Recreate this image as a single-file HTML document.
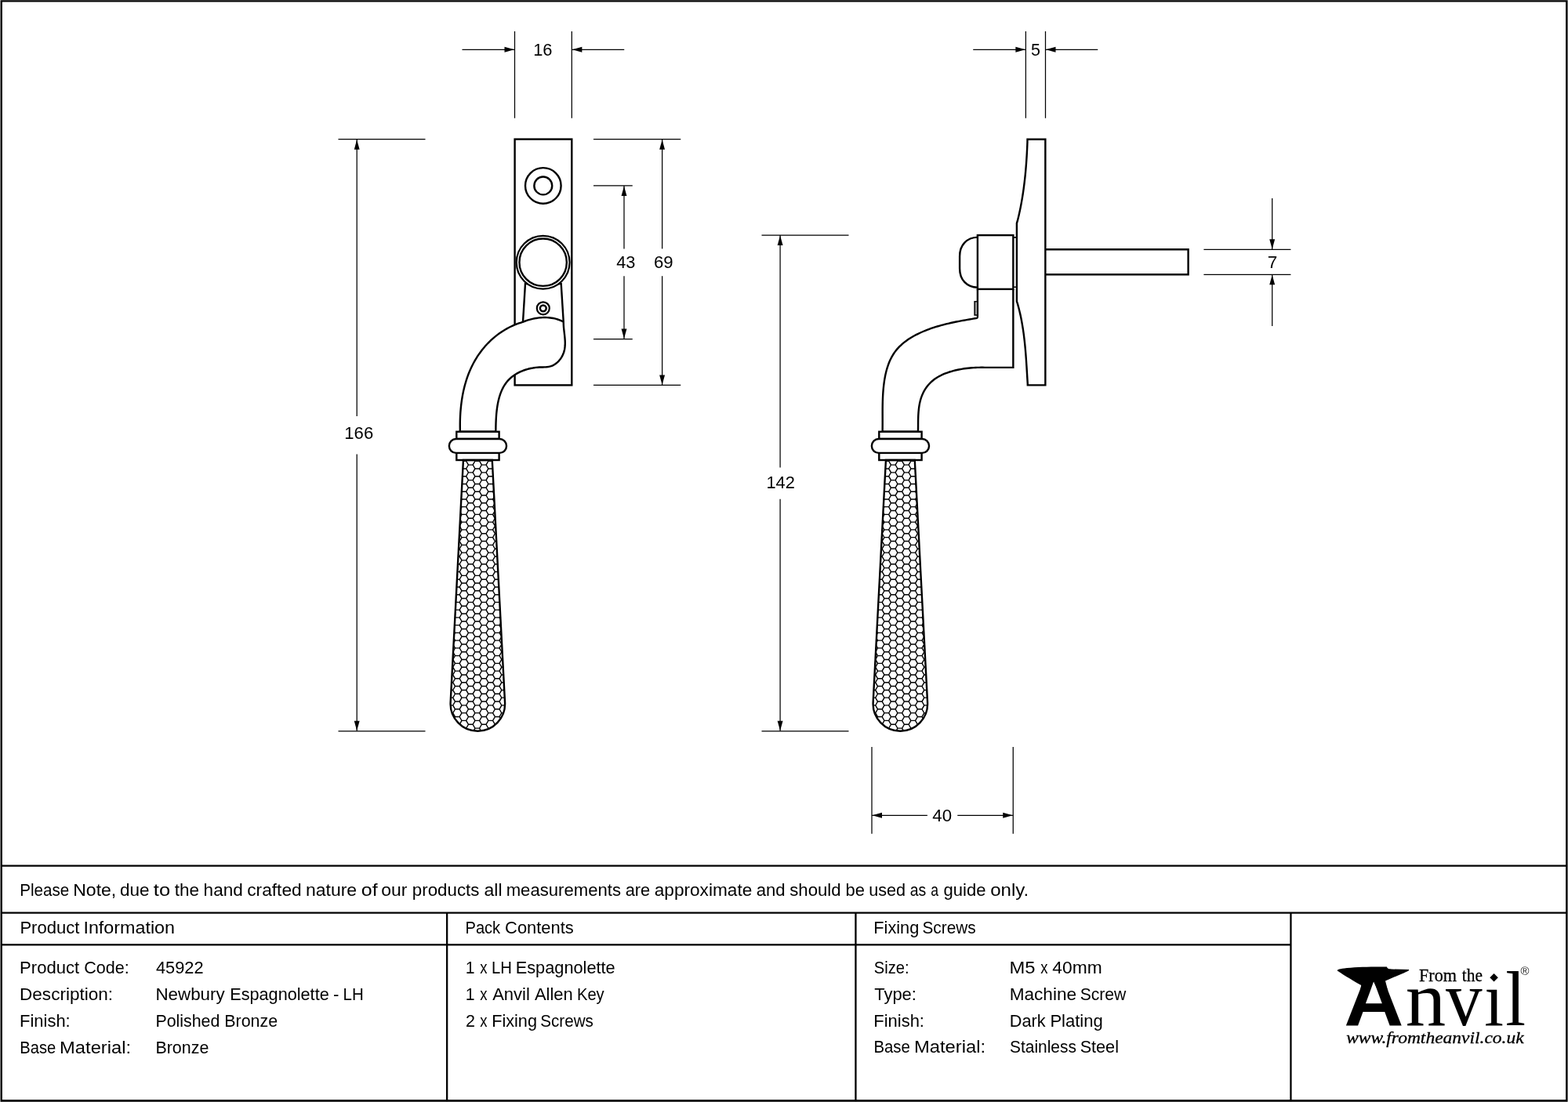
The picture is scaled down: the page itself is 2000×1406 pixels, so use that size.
<!DOCTYPE html>
<html lang="en">
<head>
<meta charset="utf-8">
<title>Newbury Espagnolette - LH - Polished Bronze - 45922</title>
<style>
html,body{margin:0;padding:0;background:#fff;}
body{width:2000px;height:1406px;overflow:hidden;}
svg{display:block;will-change:transform;opacity:0.9999;}
.t{font-family:"Liberation Sans",sans-serif;font-size:22.7px;fill:#000;}
.d{stroke:#000;stroke-width:1.25;fill:none;}
.o{stroke:#000;stroke-width:2.4;fill:none;stroke-linejoin:miter;}
.hx{stroke:#000;stroke-width:1.4;fill:none;}
.ah{fill:#000;stroke:none;}
.g{stroke:#000;stroke-width:2.3;fill:none;}
.k{fill:#000;stroke:none;}
.w{fill:#fff;}
.ls{font-family:"Liberation Serif",serif;fill:#000;}
</style>
</head>
<body>
<svg width="2000" height="1406" viewBox="0 0 2000 1406">
<rect x="0" y="0" width="2000" height="1406" fill="#fff"/>
<!-- frame and table -->
<path class="k" fill-rule="evenodd" d="M0.5,0.15 H1999.6 V1405.7 H0.5 Z M2.9,2.5 V1403 H1997.1 V2.5 Z"/>
<line class="g" x1="1.7" y1="1104.65" x2="1998.3" y2="1104.65"/>
<line class="g" x1="1.7" y1="1164.7" x2="1998.3" y2="1164.7"/>
<line class="g" x1="1.7" y1="1205.45" x2="1646.45" y2="1205.45"/>
<line class="g" x1="570.15" y1="1164.7" x2="570.15" y2="1404.3"/>
<line class="g" x1="1091.45" y1="1164.7" x2="1091.45" y2="1404.3"/>
<line class="g" x1="1646.45" y1="1164.7" x2="1646.45" y2="1404.3"/>
<!-- table text -->
<text class="t" y="1142.5"><tspan x="25.20" textLength="62.98" lengthAdjust="spacingAndGlyphs">Please</tspan> <tspan x="93.20" textLength="55.08" lengthAdjust="spacingAndGlyphs">Note,</tspan> <tspan x="153.04" textLength="37.54" lengthAdjust="spacingAndGlyphs">due</tspan> <tspan x="195.82" textLength="21.24" lengthAdjust="spacingAndGlyphs">to</tspan> <tspan x="222.66" textLength="31.30" lengthAdjust="spacingAndGlyphs">the</tspan> <tspan x="259.62" textLength="50.24" lengthAdjust="spacingAndGlyphs">hand</tspan> <tspan x="315.23" textLength="69.44" lengthAdjust="spacingAndGlyphs">crafted</tspan> <tspan x="389.95" textLength="65.24" lengthAdjust="spacingAndGlyphs">nature</tspan> <tspan x="460.74" textLength="20.84" lengthAdjust="spacingAndGlyphs">of</tspan> <tspan x="486.23" textLength="33.13" lengthAdjust="spacingAndGlyphs">our</tspan> <tspan x="525.85" textLength="85.54" lengthAdjust="spacingAndGlyphs">products</tspan> <tspan x="617.52" textLength="23.05" lengthAdjust="spacingAndGlyphs">all</tspan> <tspan x="645.71" textLength="146.24" lengthAdjust="spacingAndGlyphs">measurements</tspan> <tspan x="797.67" textLength="31.56" lengthAdjust="spacingAndGlyphs">are</tspan> <tspan x="834.74" textLength="124.54" lengthAdjust="spacingAndGlyphs">approximate</tspan> <tspan x="964.66" textLength="36.95" lengthAdjust="spacingAndGlyphs">and</tspan> <tspan x="1007.19" textLength="65.44" lengthAdjust="spacingAndGlyphs">should</tspan> <tspan x="1078.47" textLength="24.41" lengthAdjust="spacingAndGlyphs">be</tspan> <tspan x="1108.19" textLength="46.88" lengthAdjust="spacingAndGlyphs">used</tspan> <tspan x="1160.77" textLength="20.53" lengthAdjust="spacingAndGlyphs">as</tspan> <tspan x="1187.25" textLength="9.77" lengthAdjust="spacingAndGlyphs">a</tspan> <tspan x="1203.56" textLength="53.91" lengthAdjust="spacingAndGlyphs">guide</tspan> <tspan x="1263.18" textLength="49.11" lengthAdjust="spacingAndGlyphs">only.</tspan></text>
<text class="t" y="1191.1"><tspan x="25.38" textLength="75.91" lengthAdjust="spacingAndGlyphs">Product</tspan> <tspan x="106.44" textLength="116.57" lengthAdjust="spacingAndGlyphs">Information</tspan></text>
<text class="t" y="1242.2"><tspan x="25.08" textLength="76.02" lengthAdjust="spacingAndGlyphs">Product</tspan> <tspan x="107.22" textLength="57.54" lengthAdjust="spacingAndGlyphs">Code:</tspan></text>
<text class="t" y="1276.4"><tspan x="25.04" textLength="119.09" lengthAdjust="spacingAndGlyphs">Description:</tspan></text>
<text class="t" y="1309.9"><tspan x="25.09" textLength="64.59" lengthAdjust="spacingAndGlyphs">Finish:</tspan></text>
<text class="t" y="1343.5"><tspan x="25.24" textLength="45.96" lengthAdjust="spacingAndGlyphs">Base</tspan> <tspan x="76.14" textLength="90.88" lengthAdjust="spacingAndGlyphs">Material:</tspan></text>
<text class="t" y="1242.2"><tspan x="198.91" textLength="60.60" lengthAdjust="spacingAndGlyphs">45922</tspan></text>
<text class="t" y="1276.4"><tspan x="198.46" textLength="88.22" lengthAdjust="spacingAndGlyphs">Newbury</tspan> <tspan x="293.21" textLength="126.52" lengthAdjust="spacingAndGlyphs">Espagnolette</tspan> <tspan x="425.10" textLength="7.42" lengthAdjust="spacingAndGlyphs">-</tspan> <tspan x="437.61" textLength="26.20" lengthAdjust="spacingAndGlyphs">LH</tspan></text>
<text class="t" y="1309.9"><tspan x="198.44" textLength="81.92" lengthAdjust="spacingAndGlyphs">Polished</tspan> <tspan x="286.23" textLength="67.90" lengthAdjust="spacingAndGlyphs">Bronze</tspan></text>
<text class="t" y="1343.5"><tspan x="198.43" textLength="67.90" lengthAdjust="spacingAndGlyphs">Bronze</tspan></text>
<text class="t" y="1190.9"><tspan x="593.55" textLength="44.57" lengthAdjust="spacingAndGlyphs">Pack</tspan> <tspan x="644.10" textLength="87.66" lengthAdjust="spacingAndGlyphs">Contents</tspan></text>
<text class="t" y="1241.8"><tspan x="593.80" textLength="11.83" lengthAdjust="spacingAndGlyphs">1</tspan> <tspan x="612.27" textLength="9.26" lengthAdjust="spacingAndGlyphs">x</tspan> <tspan x="627.02" textLength="25.97" lengthAdjust="spacingAndGlyphs">LH</tspan> <tspan x="657.70" textLength="127.03" lengthAdjust="spacingAndGlyphs">Espagnolette</tspan></text>
<text class="t" y="1275.9"><tspan x="593.80" textLength="11.83" lengthAdjust="spacingAndGlyphs">1</tspan> <tspan x="612.27" textLength="9.26" lengthAdjust="spacingAndGlyphs">x</tspan> <tspan x="628.14" textLength="47.74" lengthAdjust="spacingAndGlyphs">Anvil</tspan> <tspan x="681.95" textLength="48.81" lengthAdjust="spacingAndGlyphs">Allen</tspan> <tspan x="735.94" textLength="34.73" lengthAdjust="spacingAndGlyphs">Key</tspan></text>
<text class="t" y="1309.7"><tspan x="594.12" textLength="11.98" lengthAdjust="spacingAndGlyphs">2</tspan> <tspan x="612.27" textLength="9.26" lengthAdjust="spacingAndGlyphs">x</tspan> <tspan x="627.21" textLength="57.74" lengthAdjust="spacingAndGlyphs">Fixing</tspan> <tspan x="689.27" textLength="67.67" lengthAdjust="spacingAndGlyphs">Screws</tspan></text>
<text class="t" y="1191.1"><tspan x="1114.31" textLength="57.95" lengthAdjust="spacingAndGlyphs">Fixing</tspan> <tspan x="1176.46" textLength="68.18" lengthAdjust="spacingAndGlyphs">Screws</tspan></text>
<text class="t" y="1241.7"><tspan x="1114.84" textLength="44.73" lengthAdjust="spacingAndGlyphs">Size:</tspan></text>
<text class="t" y="1275.8"><tspan x="1115.26" textLength="53.64" lengthAdjust="spacingAndGlyphs">Type:</tspan></text>
<text class="t" y="1309.5"><tspan x="1114.29" textLength="64.70" lengthAdjust="spacingAndGlyphs">Finish:</tspan></text>
<text class="t" y="1343.1"><tspan x="1114.42" textLength="46.38" lengthAdjust="spacingAndGlyphs">Base</tspan> <tspan x="1165.94" textLength="91.09" lengthAdjust="spacingAndGlyphs">Material:</tspan></text>
<text class="t" y="1241.7"><tspan x="1287.54" textLength="33.05" lengthAdjust="spacingAndGlyphs">M5</tspan> <tspan x="1327.27" textLength="9.26" lengthAdjust="spacingAndGlyphs">x</tspan> <tspan x="1342.39" textLength="63.31" lengthAdjust="spacingAndGlyphs">40mm</tspan></text>
<text class="t" y="1275.8"><tspan x="1287.63" textLength="85.48" lengthAdjust="spacingAndGlyphs">Machine</tspan> <tspan x="1377.65" textLength="58.72" lengthAdjust="spacingAndGlyphs">Screw</tspan></text>
<text class="t" y="1309.5"><tspan x="1287.71" textLength="45.87" lengthAdjust="spacingAndGlyphs">Dark</tspan> <tspan x="1339.38" textLength="67.40" lengthAdjust="spacingAndGlyphs">Plating</tspan></text>
<text class="t" y="1343.1"><tspan x="1288.06" textLength="84.78" lengthAdjust="spacingAndGlyphs">Stainless</tspan> <tspan x="1377.63" textLength="49.32" lengthAdjust="spacingAndGlyphs">Steel</tspan></text>
<!-- left view -->
<rect class="o" x="656.6" y="177.6" width="72.7" height="313.8"/>
<circle class="o" cx="692.8" cy="236.9" r="22.8"/>
<circle class="o" cx="692.8" cy="236.9" r="11.45"/>
<path class="o w" d="M670,361.8 L667.00,410.60 L664.61,411.53 L661.89,412.44 L659.20,413.42 L656.56,414.47 L653.97,415.59 L651.42,416.78 L648.91,418.03 L646.45,419.36 L644.03,420.74 L641.66,422.19 L639.34,423.70 L637.07,425.26 L634.84,426.89 L632.66,428.57 L630.52,430.31 L628.44,432.11 L626.41,433.95 L624.42,435.85 L622.49,437.79 L620.60,439.78 L618.77,441.82 L616.98,443.91 L615.25,446.04 L613.57,448.21 L611.95,450.42 L610.37,452.67 L608.85,454.96 L607.38,457.29 L605.97,459.65 L604.61,462.05 L603.31,464.48 L602.06,466.93 L600.87,469.42 L599.73,471.94 L598.65,474.48 L597.62,477.05 L596.65,479.64 L595.73,482.25 L594.86,484.89 L594.04,487.54 L593.27,490.21 L592.55,492.90 L591.88,495.60 L591.26,498.32 L590.68,501.05 L590.14,503.79 L589.65,506.53 L589.20,509.29 L588.79,512.05 L588.42,514.82 L588.10,517.59 L587.81,520.37 L587.56,523.14 L587.34,525.91 L587.17,528.68 L587.02,531.45 L586.91,534.21 L586.84,536.97 L586.79,539.72 L586.78,542.46 L586.79,545.18 L586.84,547.90 L586.60,550.70 L632.30,550.70 L632.36,548.47 L632.38,546.43 L632.41,544.35 L632.46,542.22 L632.51,540.07 L632.59,537.88 L632.68,535.67 L632.80,533.44 L632.94,531.19 L633.11,528.93 L633.32,526.66 L633.55,524.38 L633.82,522.10 L634.13,519.82 L634.49,517.55 L634.88,515.29 L635.33,513.05 L635.82,510.82 L636.37,508.61 L636.97,506.44 L637.63,504.29 L638.36,502.18 L639.14,500.11 L640.00,498.07 L640.92,496.09 L641.91,494.16 L642.98,492.28 L644.13,490.46 L645.36,488.70 L646.67,487.01 L648.07,485.40 L649.56,483.85 L651.13,482.38 L652.77,480.99 L654.49,479.66 L656.28,478.42 L658.13,477.24 L660.04,476.15 L662.01,475.12 L664.02,474.17 L666.08,473.29 L668.17,472.49 L670.30,471.76 L672.46,471.10 L674.65,470.52 L676.85,470.01 L679.07,469.57 L681.29,469.21 L683.52,468.92 L685.76,468.71 L687.98,468.56 L690.20,468.49 L692.40,468.44 L694.58,468.38 L696.73,468.26 L698.86,468.04 L700.95,467.67 L703.01,467.10 L705.02,466.30 L706.97,465.27 L708.83,464.03 L710.60,462.62 L712.24,461.05 L713.76,459.35 L715.13,457.54 L716.36,455.63 L717.45,453.64 L718.37,451.59 L719.14,449.51 L719.74,447.40 L720.19,445.26 L720.50,443.11 L720.69,440.93 L720.78,438.75 L720.77,436.55 L720.69,434.34 L720.54,432.12 L720.34,429.89 L720.11,427.67 L719.86,425.44 L719.60,423.21 L719.35,420.99 L719.13,418.77 L718.95,416.56 L718.82,414.37 L718.76,412.18 L718.70,410.00 L715.7,362 Z"/>
<path class="o" d="M667.00,410.60 L668.86,409.99 L670.71,409.33 L672.57,408.71 L674.45,408.13 L676.35,407.60 L678.26,407.11 L680.19,406.67 L682.13,406.28 L684.07,405.94 L686.03,405.65 L687.99,405.41 L689.95,405.23 L691.91,405.11 L693.88,405.05 L695.84,405.05 L697.80,405.12 L699.76,405.24 L701.70,405.44 L703.64,405.70 L705.57,406.04 L707.49,406.45 L709.39,406.93 L711.28,407.49 L713.15,408.12 L715.00,408.84 L716.82,409.64 L718.60,410.50"/>
<circle class="o w" cx="692.65" cy="334.7" r="33.9" style="stroke-width:2.2"/>
<circle class="o" cx="692.65" cy="334.7" r="30.2" style="stroke-width:2.4"/>
<circle class="o" cx="692.8" cy="393.3" r="8" style="stroke-width:2.2"/>
<circle class="o" cx="692.8" cy="393.3" r="3.9" style="stroke-width:2.5"/>
<g>
<rect class="o" x="582.30" y="550.8" width="54.3" height="9.2"/>
<rect class="o" x="582.30" y="577.9" width="54.3" height="9.1"/>
<rect class="o w" x="572.85" y="560" width="73.2" height="17.9" rx="8.95" ry="8.95"/>
<clipPath id="hclip"><path d="M590.95,587.0 L574.65,896.17 A34.75,34.75 0 1 0 644.05,896.17 L627.75,587.0 Z"/></clipPath>
<path class="hx" clip-path="url(#hclip)" d="M560.73,568.75l2.83,4.87l-2.83,4.87l2.83,4.87l-2.83,4.87l2.83,4.87l-2.83,4.87l2.83,4.87l-2.83,4.87l2.83,4.87l-2.83,4.87l2.83,4.87l-2.83,4.87l2.83,4.87l-2.83,4.87l2.83,4.87l-2.83,4.87l2.83,4.87l-2.83,4.87l2.83,4.87l-2.83,4.87l2.83,4.87l-2.83,4.87l2.83,4.87l-2.83,4.87l2.83,4.87l-2.83,4.87l2.83,4.87l-2.83,4.87l2.83,4.87l-2.83,4.87l2.83,4.87l-2.83,4.87l2.83,4.87l-2.83,4.87l2.83,4.87l-2.83,4.87l2.83,4.87l-2.83,4.87l2.83,4.87l-2.83,4.87l2.83,4.87l-2.83,4.87l2.83,4.87l-2.83,4.87l2.83,4.87l-2.83,4.87l2.83,4.87l-2.83,4.87l2.83,4.87l-2.83,4.87l2.83,4.87l-2.83,4.87l2.83,4.87l-2.83,4.87l2.83,4.87l-2.83,4.87l2.83,4.87l-2.83,4.87l2.83,4.87l-2.83,4.87l2.83,4.87l-2.83,4.87l2.83,4.87l-2.83,4.87l2.83,4.87l-2.83,4.87l2.83,4.87l-2.83,4.87l2.83,4.87l-2.83,4.87l2.83,4.87l-2.83,4.87l2.83,4.87l-2.83,4.87l2.83,4.87l-2.83,4.87l2.83,4.87l-2.83,4.87l2.83,4.87l-2.83,4.87M555.07,568.75h5.65m-5.65,9.74h5.65m-5.65,9.74h5.65m-5.65,9.74h5.65m-5.65,9.74h5.65m-5.65,9.74h5.65m-5.65,9.74h5.65m-5.65,9.74h5.65m-5.65,9.74h5.65m-5.65,9.74h5.65m-5.65,9.74h5.65m-5.65,9.74h5.65m-5.65,9.74h5.65m-5.65,9.74h5.65m-5.65,9.74h5.65m-5.65,9.74h5.65m-5.65,9.74h5.65m-5.65,9.74h5.65m-5.65,9.74h5.65m-5.65,9.74h5.65m-5.65,9.74h5.65m-5.65,9.74h5.65m-5.65,9.74h5.65m-5.65,9.74h5.65m-5.65,9.74h5.65m-5.65,9.74h5.65m-5.65,9.74h5.65m-5.65,9.74h5.65m-5.65,9.74h5.65m-5.65,9.74h5.65m-5.65,9.74h5.65m-5.65,9.74h5.65m-5.65,9.74h5.65m-5.65,9.74h5.65m-5.65,9.74h5.65m-5.65,9.74h5.65m-5.65,9.74h5.65m-5.65,9.74h5.65m-5.65,9.74h5.65m-5.65,9.74h5.65m-5.65,9.74h5.65M569.20,563.88l2.83,4.87l-2.83,4.87l2.83,4.87l-2.83,4.87l2.83,4.87l-2.83,4.87l2.83,4.87l-2.83,4.87l2.83,4.87l-2.83,4.87l2.83,4.87l-2.83,4.87l2.83,4.87l-2.83,4.87l2.83,4.87l-2.83,4.87l2.83,4.87l-2.83,4.87l2.83,4.87l-2.83,4.87l2.83,4.87l-2.83,4.87l2.83,4.87l-2.83,4.87l2.83,4.87l-2.83,4.87l2.83,4.87l-2.83,4.87l2.83,4.87l-2.83,4.87l2.83,4.87l-2.83,4.87l2.83,4.87l-2.83,4.87l2.83,4.87l-2.83,4.87l2.83,4.87l-2.83,4.87l2.83,4.87l-2.83,4.87l2.83,4.87l-2.83,4.87l2.83,4.87l-2.83,4.87l2.83,4.87l-2.83,4.87l2.83,4.87l-2.83,4.87l2.83,4.87l-2.83,4.87l2.83,4.87l-2.83,4.87l2.83,4.87l-2.83,4.87l2.83,4.87l-2.83,4.87l2.83,4.87l-2.83,4.87l2.83,4.87l-2.83,4.87l2.83,4.87l-2.83,4.87l2.83,4.87l-2.83,4.87l2.83,4.87l-2.83,4.87l2.83,4.87l-2.83,4.87l2.83,4.87l-2.83,4.87l2.83,4.87l-2.83,4.87l2.83,4.87l-2.83,4.87l2.83,4.87l-2.83,4.87l2.83,4.87l-2.83,4.87l2.83,4.87l-2.83,4.87M563.55,563.88h5.65m-5.65,9.74h5.65m-5.65,9.74h5.65m-5.65,9.74h5.65m-5.65,9.74h5.65m-5.65,9.74h5.65m-5.65,9.74h5.65m-5.65,9.74h5.65m-5.65,9.74h5.65m-5.65,9.74h5.65m-5.65,9.74h5.65m-5.65,9.74h5.65m-5.65,9.74h5.65m-5.65,9.74h5.65m-5.65,9.74h5.65m-5.65,9.74h5.65m-5.65,9.74h5.65m-5.65,9.74h5.65m-5.65,9.74h5.65m-5.65,9.74h5.65m-5.65,9.74h5.65m-5.65,9.74h5.65m-5.65,9.74h5.65m-5.65,9.74h5.65m-5.65,9.74h5.65m-5.65,9.74h5.65m-5.65,9.74h5.65m-5.65,9.74h5.65m-5.65,9.74h5.65m-5.65,9.74h5.65m-5.65,9.74h5.65m-5.65,9.74h5.65m-5.65,9.74h5.65m-5.65,9.74h5.65m-5.65,9.74h5.65m-5.65,9.74h5.65m-5.65,9.74h5.65m-5.65,9.74h5.65m-5.65,9.74h5.65m-5.65,9.74h5.65m-5.65,9.74h5.65M577.68,568.75l2.83,4.87l-2.83,4.87l2.83,4.87l-2.83,4.87l2.83,4.87l-2.83,4.87l2.83,4.87l-2.83,4.87l2.83,4.87l-2.83,4.87l2.83,4.87l-2.83,4.87l2.83,4.87l-2.83,4.87l2.83,4.87l-2.83,4.87l2.83,4.87l-2.83,4.87l2.83,4.87l-2.83,4.87l2.83,4.87l-2.83,4.87l2.83,4.87l-2.83,4.87l2.83,4.87l-2.83,4.87l2.83,4.87l-2.83,4.87l2.83,4.87l-2.83,4.87l2.83,4.87l-2.83,4.87l2.83,4.87l-2.83,4.87l2.83,4.87l-2.83,4.87l2.83,4.87l-2.83,4.87l2.83,4.87l-2.83,4.87l2.83,4.87l-2.83,4.87l2.83,4.87l-2.83,4.87l2.83,4.87l-2.83,4.87l2.83,4.87l-2.83,4.87l2.83,4.87l-2.83,4.87l2.83,4.87l-2.83,4.87l2.83,4.87l-2.83,4.87l2.83,4.87l-2.83,4.87l2.83,4.87l-2.83,4.87l2.83,4.87l-2.83,4.87l2.83,4.87l-2.83,4.87l2.83,4.87l-2.83,4.87l2.83,4.87l-2.83,4.87l2.83,4.87l-2.83,4.87l2.83,4.87l-2.83,4.87l2.83,4.87l-2.83,4.87l2.83,4.87l-2.83,4.87l2.83,4.87l-2.83,4.87l2.83,4.87l-2.83,4.87l2.83,4.87l-2.83,4.87M572.02,568.75h5.65m-5.65,9.74h5.65m-5.65,9.74h5.65m-5.65,9.74h5.65m-5.65,9.74h5.65m-5.65,9.74h5.65m-5.65,9.74h5.65m-5.65,9.74h5.65m-5.65,9.74h5.65m-5.65,9.74h5.65m-5.65,9.74h5.65m-5.65,9.74h5.65m-5.65,9.74h5.65m-5.65,9.74h5.65m-5.65,9.74h5.65m-5.65,9.74h5.65m-5.65,9.74h5.65m-5.65,9.74h5.65m-5.65,9.74h5.65m-5.65,9.74h5.65m-5.65,9.74h5.65m-5.65,9.74h5.65m-5.65,9.74h5.65m-5.65,9.74h5.65m-5.65,9.74h5.65m-5.65,9.74h5.65m-5.65,9.74h5.65m-5.65,9.74h5.65m-5.65,9.74h5.65m-5.65,9.74h5.65m-5.65,9.74h5.65m-5.65,9.74h5.65m-5.65,9.74h5.65m-5.65,9.74h5.65m-5.65,9.74h5.65m-5.65,9.74h5.65m-5.65,9.74h5.65m-5.65,9.74h5.65m-5.65,9.74h5.65m-5.65,9.74h5.65m-5.65,9.74h5.65M586.15,563.88l2.83,4.87l-2.83,4.87l2.83,4.87l-2.83,4.87l2.83,4.87l-2.83,4.87l2.83,4.87l-2.83,4.87l2.83,4.87l-2.83,4.87l2.83,4.87l-2.83,4.87l2.83,4.87l-2.83,4.87l2.83,4.87l-2.83,4.87l2.83,4.87l-2.83,4.87l2.83,4.87l-2.83,4.87l2.83,4.87l-2.83,4.87l2.83,4.87l-2.83,4.87l2.83,4.87l-2.83,4.87l2.83,4.87l-2.83,4.87l2.83,4.87l-2.83,4.87l2.83,4.87l-2.83,4.87l2.83,4.87l-2.83,4.87l2.83,4.87l-2.83,4.87l2.83,4.87l-2.83,4.87l2.83,4.87l-2.83,4.87l2.83,4.87l-2.83,4.87l2.83,4.87l-2.83,4.87l2.83,4.87l-2.83,4.87l2.83,4.87l-2.83,4.87l2.83,4.87l-2.83,4.87l2.83,4.87l-2.83,4.87l2.83,4.87l-2.83,4.87l2.83,4.87l-2.83,4.87l2.83,4.87l-2.83,4.87l2.83,4.87l-2.83,4.87l2.83,4.87l-2.83,4.87l2.83,4.87l-2.83,4.87l2.83,4.87l-2.83,4.87l2.83,4.87l-2.83,4.87l2.83,4.87l-2.83,4.87l2.83,4.87l-2.83,4.87l2.83,4.87l-2.83,4.87l2.83,4.87l-2.83,4.87l2.83,4.87l-2.83,4.87l2.83,4.87l-2.83,4.87M580.50,563.88h5.65m-5.65,9.74h5.65m-5.65,9.74h5.65m-5.65,9.74h5.65m-5.65,9.74h5.65m-5.65,9.74h5.65m-5.65,9.74h5.65m-5.65,9.74h5.65m-5.65,9.74h5.65m-5.65,9.74h5.65m-5.65,9.74h5.65m-5.65,9.74h5.65m-5.65,9.74h5.65m-5.65,9.74h5.65m-5.65,9.74h5.65m-5.65,9.74h5.65m-5.65,9.74h5.65m-5.65,9.74h5.65m-5.65,9.74h5.65m-5.65,9.74h5.65m-5.65,9.74h5.65m-5.65,9.74h5.65m-5.65,9.74h5.65m-5.65,9.74h5.65m-5.65,9.74h5.65m-5.65,9.74h5.65m-5.65,9.74h5.65m-5.65,9.74h5.65m-5.65,9.74h5.65m-5.65,9.74h5.65m-5.65,9.74h5.65m-5.65,9.74h5.65m-5.65,9.74h5.65m-5.65,9.74h5.65m-5.65,9.74h5.65m-5.65,9.74h5.65m-5.65,9.74h5.65m-5.65,9.74h5.65m-5.65,9.74h5.65m-5.65,9.74h5.65m-5.65,9.74h5.65M594.62,568.75l2.83,4.87l-2.83,4.87l2.83,4.87l-2.83,4.87l2.83,4.87l-2.83,4.87l2.83,4.87l-2.83,4.87l2.83,4.87l-2.83,4.87l2.83,4.87l-2.83,4.87l2.83,4.87l-2.83,4.87l2.83,4.87l-2.83,4.87l2.83,4.87l-2.83,4.87l2.83,4.87l-2.83,4.87l2.83,4.87l-2.83,4.87l2.83,4.87l-2.83,4.87l2.83,4.87l-2.83,4.87l2.83,4.87l-2.83,4.87l2.83,4.87l-2.83,4.87l2.83,4.87l-2.83,4.87l2.83,4.87l-2.83,4.87l2.83,4.87l-2.83,4.87l2.83,4.87l-2.83,4.87l2.83,4.87l-2.83,4.87l2.83,4.87l-2.83,4.87l2.83,4.87l-2.83,4.87l2.83,4.87l-2.83,4.87l2.83,4.87l-2.83,4.87l2.83,4.87l-2.83,4.87l2.83,4.87l-2.83,4.87l2.83,4.87l-2.83,4.87l2.83,4.87l-2.83,4.87l2.83,4.87l-2.83,4.87l2.83,4.87l-2.83,4.87l2.83,4.87l-2.83,4.87l2.83,4.87l-2.83,4.87l2.83,4.87l-2.83,4.87l2.83,4.87l-2.83,4.87l2.83,4.87l-2.83,4.87l2.83,4.87l-2.83,4.87l2.83,4.87l-2.83,4.87l2.83,4.87l-2.83,4.87l2.83,4.87l-2.83,4.87l2.83,4.87l-2.83,4.87M588.97,568.75h5.65m-5.65,9.74h5.65m-5.65,9.74h5.65m-5.65,9.74h5.65m-5.65,9.74h5.65m-5.65,9.74h5.65m-5.65,9.74h5.65m-5.65,9.74h5.65m-5.65,9.74h5.65m-5.65,9.74h5.65m-5.65,9.74h5.65m-5.65,9.74h5.65m-5.65,9.74h5.65m-5.65,9.74h5.65m-5.65,9.74h5.65m-5.65,9.74h5.65m-5.65,9.74h5.65m-5.65,9.74h5.65m-5.65,9.74h5.65m-5.65,9.74h5.65m-5.65,9.74h5.65m-5.65,9.74h5.65m-5.65,9.74h5.65m-5.65,9.74h5.65m-5.65,9.74h5.65m-5.65,9.74h5.65m-5.65,9.74h5.65m-5.65,9.74h5.65m-5.65,9.74h5.65m-5.65,9.74h5.65m-5.65,9.74h5.65m-5.65,9.74h5.65m-5.65,9.74h5.65m-5.65,9.74h5.65m-5.65,9.74h5.65m-5.65,9.74h5.65m-5.65,9.74h5.65m-5.65,9.74h5.65m-5.65,9.74h5.65m-5.65,9.74h5.65m-5.65,9.74h5.65M603.10,563.88l2.83,4.87l-2.83,4.87l2.83,4.87l-2.83,4.87l2.83,4.87l-2.83,4.87l2.83,4.87l-2.83,4.87l2.83,4.87l-2.83,4.87l2.83,4.87l-2.83,4.87l2.83,4.87l-2.83,4.87l2.83,4.87l-2.83,4.87l2.83,4.87l-2.83,4.87l2.83,4.87l-2.83,4.87l2.83,4.87l-2.83,4.87l2.83,4.87l-2.83,4.87l2.83,4.87l-2.83,4.87l2.83,4.87l-2.83,4.87l2.83,4.87l-2.83,4.87l2.83,4.87l-2.83,4.87l2.83,4.87l-2.83,4.87l2.83,4.87l-2.83,4.87l2.83,4.87l-2.83,4.87l2.83,4.87l-2.83,4.87l2.83,4.87l-2.83,4.87l2.83,4.87l-2.83,4.87l2.83,4.87l-2.83,4.87l2.83,4.87l-2.83,4.87l2.83,4.87l-2.83,4.87l2.83,4.87l-2.83,4.87l2.83,4.87l-2.83,4.87l2.83,4.87l-2.83,4.87l2.83,4.87l-2.83,4.87l2.83,4.87l-2.83,4.87l2.83,4.87l-2.83,4.87l2.83,4.87l-2.83,4.87l2.83,4.87l-2.83,4.87l2.83,4.87l-2.83,4.87l2.83,4.87l-2.83,4.87l2.83,4.87l-2.83,4.87l2.83,4.87l-2.83,4.87l2.83,4.87l-2.83,4.87l2.83,4.87l-2.83,4.87l2.83,4.87l-2.83,4.87M597.45,563.88h5.65m-5.65,9.74h5.65m-5.65,9.74h5.65m-5.65,9.74h5.65m-5.65,9.74h5.65m-5.65,9.74h5.65m-5.65,9.74h5.65m-5.65,9.74h5.65m-5.65,9.74h5.65m-5.65,9.74h5.65m-5.65,9.74h5.65m-5.65,9.74h5.65m-5.65,9.74h5.65m-5.65,9.74h5.65m-5.65,9.74h5.65m-5.65,9.74h5.65m-5.65,9.74h5.65m-5.65,9.74h5.65m-5.65,9.74h5.65m-5.65,9.74h5.65m-5.65,9.74h5.65m-5.65,9.74h5.65m-5.65,9.74h5.65m-5.65,9.74h5.65m-5.65,9.74h5.65m-5.65,9.74h5.65m-5.65,9.74h5.65m-5.65,9.74h5.65m-5.65,9.74h5.65m-5.65,9.74h5.65m-5.65,9.74h5.65m-5.65,9.74h5.65m-5.65,9.74h5.65m-5.65,9.74h5.65m-5.65,9.74h5.65m-5.65,9.74h5.65m-5.65,9.74h5.65m-5.65,9.74h5.65m-5.65,9.74h5.65m-5.65,9.74h5.65m-5.65,9.74h5.65M611.58,568.75l2.83,4.87l-2.83,4.87l2.83,4.87l-2.83,4.87l2.83,4.87l-2.83,4.87l2.83,4.87l-2.83,4.87l2.83,4.87l-2.83,4.87l2.83,4.87l-2.83,4.87l2.83,4.87l-2.83,4.87l2.83,4.87l-2.83,4.87l2.83,4.87l-2.83,4.87l2.83,4.87l-2.83,4.87l2.83,4.87l-2.83,4.87l2.83,4.87l-2.83,4.87l2.83,4.87l-2.83,4.87l2.83,4.87l-2.83,4.87l2.83,4.87l-2.83,4.87l2.83,4.87l-2.83,4.87l2.83,4.87l-2.83,4.87l2.83,4.87l-2.83,4.87l2.83,4.87l-2.83,4.87l2.83,4.87l-2.83,4.87l2.83,4.87l-2.83,4.87l2.83,4.87l-2.83,4.87l2.83,4.87l-2.83,4.87l2.83,4.87l-2.83,4.87l2.83,4.87l-2.83,4.87l2.83,4.87l-2.83,4.87l2.83,4.87l-2.83,4.87l2.83,4.87l-2.83,4.87l2.83,4.87l-2.83,4.87l2.83,4.87l-2.83,4.87l2.83,4.87l-2.83,4.87l2.83,4.87l-2.83,4.87l2.83,4.87l-2.83,4.87l2.83,4.87l-2.83,4.87l2.83,4.87l-2.83,4.87l2.83,4.87l-2.83,4.87l2.83,4.87l-2.83,4.87l2.83,4.87l-2.83,4.87l2.83,4.87l-2.83,4.87l2.83,4.87l-2.83,4.87M605.92,568.75h5.65m-5.65,9.74h5.65m-5.65,9.74h5.65m-5.65,9.74h5.65m-5.65,9.74h5.65m-5.65,9.74h5.65m-5.65,9.74h5.65m-5.65,9.74h5.65m-5.65,9.74h5.65m-5.65,9.74h5.65m-5.65,9.74h5.65m-5.65,9.74h5.65m-5.65,9.74h5.65m-5.65,9.74h5.65m-5.65,9.74h5.65m-5.65,9.74h5.65m-5.65,9.74h5.65m-5.65,9.74h5.65m-5.65,9.74h5.65m-5.65,9.74h5.65m-5.65,9.74h5.65m-5.65,9.74h5.65m-5.65,9.74h5.65m-5.65,9.74h5.65m-5.65,9.74h5.65m-5.65,9.74h5.65m-5.65,9.74h5.65m-5.65,9.74h5.65m-5.65,9.74h5.65m-5.65,9.74h5.65m-5.65,9.74h5.65m-5.65,9.74h5.65m-5.65,9.74h5.65m-5.65,9.74h5.65m-5.65,9.74h5.65m-5.65,9.74h5.65m-5.65,9.74h5.65m-5.65,9.74h5.65m-5.65,9.74h5.65m-5.65,9.74h5.65m-5.65,9.74h5.65M620.05,563.88l2.83,4.87l-2.83,4.87l2.83,4.87l-2.83,4.87l2.83,4.87l-2.83,4.87l2.83,4.87l-2.83,4.87l2.83,4.87l-2.83,4.87l2.83,4.87l-2.83,4.87l2.83,4.87l-2.83,4.87l2.83,4.87l-2.83,4.87l2.83,4.87l-2.83,4.87l2.83,4.87l-2.83,4.87l2.83,4.87l-2.83,4.87l2.83,4.87l-2.83,4.87l2.83,4.87l-2.83,4.87l2.83,4.87l-2.83,4.87l2.83,4.87l-2.83,4.87l2.83,4.87l-2.83,4.87l2.83,4.87l-2.83,4.87l2.83,4.87l-2.83,4.87l2.83,4.87l-2.83,4.87l2.83,4.87l-2.83,4.87l2.83,4.87l-2.83,4.87l2.83,4.87l-2.83,4.87l2.83,4.87l-2.83,4.87l2.83,4.87l-2.83,4.87l2.83,4.87l-2.83,4.87l2.83,4.87l-2.83,4.87l2.83,4.87l-2.83,4.87l2.83,4.87l-2.83,4.87l2.83,4.87l-2.83,4.87l2.83,4.87l-2.83,4.87l2.83,4.87l-2.83,4.87l2.83,4.87l-2.83,4.87l2.83,4.87l-2.83,4.87l2.83,4.87l-2.83,4.87l2.83,4.87l-2.83,4.87l2.83,4.87l-2.83,4.87l2.83,4.87l-2.83,4.87l2.83,4.87l-2.83,4.87l2.83,4.87l-2.83,4.87l2.83,4.87l-2.83,4.87M614.40,563.88h5.65m-5.65,9.74h5.65m-5.65,9.74h5.65m-5.65,9.74h5.65m-5.65,9.74h5.65m-5.65,9.74h5.65m-5.65,9.74h5.65m-5.65,9.74h5.65m-5.65,9.74h5.65m-5.65,9.74h5.65m-5.65,9.74h5.65m-5.65,9.74h5.65m-5.65,9.74h5.65m-5.65,9.74h5.65m-5.65,9.74h5.65m-5.65,9.74h5.65m-5.65,9.74h5.65m-5.65,9.74h5.65m-5.65,9.74h5.65m-5.65,9.74h5.65m-5.65,9.74h5.65m-5.65,9.74h5.65m-5.65,9.74h5.65m-5.65,9.74h5.65m-5.65,9.74h5.65m-5.65,9.74h5.65m-5.65,9.74h5.65m-5.65,9.74h5.65m-5.65,9.74h5.65m-5.65,9.74h5.65m-5.65,9.74h5.65m-5.65,9.74h5.65m-5.65,9.74h5.65m-5.65,9.74h5.65m-5.65,9.74h5.65m-5.65,9.74h5.65m-5.65,9.74h5.65m-5.65,9.74h5.65m-5.65,9.74h5.65m-5.65,9.74h5.65m-5.65,9.74h5.65M628.53,568.75l2.83,4.87l-2.83,4.87l2.83,4.87l-2.83,4.87l2.83,4.87l-2.83,4.87l2.83,4.87l-2.83,4.87l2.83,4.87l-2.83,4.87l2.83,4.87l-2.83,4.87l2.83,4.87l-2.83,4.87l2.83,4.87l-2.83,4.87l2.83,4.87l-2.83,4.87l2.83,4.87l-2.83,4.87l2.83,4.87l-2.83,4.87l2.83,4.87l-2.83,4.87l2.83,4.87l-2.83,4.87l2.83,4.87l-2.83,4.87l2.83,4.87l-2.83,4.87l2.83,4.87l-2.83,4.87l2.83,4.87l-2.83,4.87l2.83,4.87l-2.83,4.87l2.83,4.87l-2.83,4.87l2.83,4.87l-2.83,4.87l2.83,4.87l-2.83,4.87l2.83,4.87l-2.83,4.87l2.83,4.87l-2.83,4.87l2.83,4.87l-2.83,4.87l2.83,4.87l-2.83,4.87l2.83,4.87l-2.83,4.87l2.83,4.87l-2.83,4.87l2.83,4.87l-2.83,4.87l2.83,4.87l-2.83,4.87l2.83,4.87l-2.83,4.87l2.83,4.87l-2.83,4.87l2.83,4.87l-2.83,4.87l2.83,4.87l-2.83,4.87l2.83,4.87l-2.83,4.87l2.83,4.87l-2.83,4.87l2.83,4.87l-2.83,4.87l2.83,4.87l-2.83,4.87l2.83,4.87l-2.83,4.87l2.83,4.87l-2.83,4.87l2.83,4.87l-2.83,4.87M622.88,568.75h5.65m-5.65,9.74h5.65m-5.65,9.74h5.65m-5.65,9.74h5.65m-5.65,9.74h5.65m-5.65,9.74h5.65m-5.65,9.74h5.65m-5.65,9.74h5.65m-5.65,9.74h5.65m-5.65,9.74h5.65m-5.65,9.74h5.65m-5.65,9.74h5.65m-5.65,9.74h5.65m-5.65,9.74h5.65m-5.65,9.74h5.65m-5.65,9.74h5.65m-5.65,9.74h5.65m-5.65,9.74h5.65m-5.65,9.74h5.65m-5.65,9.74h5.65m-5.65,9.74h5.65m-5.65,9.74h5.65m-5.65,9.74h5.65m-5.65,9.74h5.65m-5.65,9.74h5.65m-5.65,9.74h5.65m-5.65,9.74h5.65m-5.65,9.74h5.65m-5.65,9.74h5.65m-5.65,9.74h5.65m-5.65,9.74h5.65m-5.65,9.74h5.65m-5.65,9.74h5.65m-5.65,9.74h5.65m-5.65,9.74h5.65m-5.65,9.74h5.65m-5.65,9.74h5.65m-5.65,9.74h5.65m-5.65,9.74h5.65m-5.65,9.74h5.65m-5.65,9.74h5.65M637.00,563.88l2.83,4.87l-2.83,4.87l2.83,4.87l-2.83,4.87l2.83,4.87l-2.83,4.87l2.83,4.87l-2.83,4.87l2.83,4.87l-2.83,4.87l2.83,4.87l-2.83,4.87l2.83,4.87l-2.83,4.87l2.83,4.87l-2.83,4.87l2.83,4.87l-2.83,4.87l2.83,4.87l-2.83,4.87l2.83,4.87l-2.83,4.87l2.83,4.87l-2.83,4.87l2.83,4.87l-2.83,4.87l2.83,4.87l-2.83,4.87l2.83,4.87l-2.83,4.87l2.83,4.87l-2.83,4.87l2.83,4.87l-2.83,4.87l2.83,4.87l-2.83,4.87l2.83,4.87l-2.83,4.87l2.83,4.87l-2.83,4.87l2.83,4.87l-2.83,4.87l2.83,4.87l-2.83,4.87l2.83,4.87l-2.83,4.87l2.83,4.87l-2.83,4.87l2.83,4.87l-2.83,4.87l2.83,4.87l-2.83,4.87l2.83,4.87l-2.83,4.87l2.83,4.87l-2.83,4.87l2.83,4.87l-2.83,4.87l2.83,4.87l-2.83,4.87l2.83,4.87l-2.83,4.87l2.83,4.87l-2.83,4.87l2.83,4.87l-2.83,4.87l2.83,4.87l-2.83,4.87l2.83,4.87l-2.83,4.87l2.83,4.87l-2.83,4.87l2.83,4.87l-2.83,4.87l2.83,4.87l-2.83,4.87l2.83,4.87l-2.83,4.87l2.83,4.87l-2.83,4.87M631.35,563.88h5.65m-5.65,9.74h5.65m-5.65,9.74h5.65m-5.65,9.74h5.65m-5.65,9.74h5.65m-5.65,9.74h5.65m-5.65,9.74h5.65m-5.65,9.74h5.65m-5.65,9.74h5.65m-5.65,9.74h5.65m-5.65,9.74h5.65m-5.65,9.74h5.65m-5.65,9.74h5.65m-5.65,9.74h5.65m-5.65,9.74h5.65m-5.65,9.74h5.65m-5.65,9.74h5.65m-5.65,9.74h5.65m-5.65,9.74h5.65m-5.65,9.74h5.65m-5.65,9.74h5.65m-5.65,9.74h5.65m-5.65,9.74h5.65m-5.65,9.74h5.65m-5.65,9.74h5.65m-5.65,9.74h5.65m-5.65,9.74h5.65m-5.65,9.74h5.65m-5.65,9.74h5.65m-5.65,9.74h5.65m-5.65,9.74h5.65m-5.65,9.74h5.65m-5.65,9.74h5.65m-5.65,9.74h5.65m-5.65,9.74h5.65m-5.65,9.74h5.65m-5.65,9.74h5.65m-5.65,9.74h5.65m-5.65,9.74h5.65m-5.65,9.74h5.65m-5.65,9.74h5.65M645.48,568.75l2.83,4.87l-2.83,4.87l2.83,4.87l-2.83,4.87l2.83,4.87l-2.83,4.87l2.83,4.87l-2.83,4.87l2.83,4.87l-2.83,4.87l2.83,4.87l-2.83,4.87l2.83,4.87l-2.83,4.87l2.83,4.87l-2.83,4.87l2.83,4.87l-2.83,4.87l2.83,4.87l-2.83,4.87l2.83,4.87l-2.83,4.87l2.83,4.87l-2.83,4.87l2.83,4.87l-2.83,4.87l2.83,4.87l-2.83,4.87l2.83,4.87l-2.83,4.87l2.83,4.87l-2.83,4.87l2.83,4.87l-2.83,4.87l2.83,4.87l-2.83,4.87l2.83,4.87l-2.83,4.87l2.83,4.87l-2.83,4.87l2.83,4.87l-2.83,4.87l2.83,4.87l-2.83,4.87l2.83,4.87l-2.83,4.87l2.83,4.87l-2.83,4.87l2.83,4.87l-2.83,4.87l2.83,4.87l-2.83,4.87l2.83,4.87l-2.83,4.87l2.83,4.87l-2.83,4.87l2.83,4.87l-2.83,4.87l2.83,4.87l-2.83,4.87l2.83,4.87l-2.83,4.87l2.83,4.87l-2.83,4.87l2.83,4.87l-2.83,4.87l2.83,4.87l-2.83,4.87l2.83,4.87l-2.83,4.87l2.83,4.87l-2.83,4.87l2.83,4.87l-2.83,4.87l2.83,4.87l-2.83,4.87l2.83,4.87l-2.83,4.87l2.83,4.87l-2.83,4.87M639.82,568.75h5.65m-5.65,9.74h5.65m-5.65,9.74h5.65m-5.65,9.74h5.65m-5.65,9.74h5.65m-5.65,9.74h5.65m-5.65,9.74h5.65m-5.65,9.74h5.65m-5.65,9.74h5.65m-5.65,9.74h5.65m-5.65,9.74h5.65m-5.65,9.74h5.65m-5.65,9.74h5.65m-5.65,9.74h5.65m-5.65,9.74h5.65m-5.65,9.74h5.65m-5.65,9.74h5.65m-5.65,9.74h5.65m-5.65,9.74h5.65m-5.65,9.74h5.65m-5.65,9.74h5.65m-5.65,9.74h5.65m-5.65,9.74h5.65m-5.65,9.74h5.65m-5.65,9.74h5.65m-5.65,9.74h5.65m-5.65,9.74h5.65m-5.65,9.74h5.65m-5.65,9.74h5.65m-5.65,9.74h5.65m-5.65,9.74h5.65m-5.65,9.74h5.65m-5.65,9.74h5.65m-5.65,9.74h5.65m-5.65,9.74h5.65m-5.65,9.74h5.65m-5.65,9.74h5.65m-5.65,9.74h5.65m-5.65,9.74h5.65m-5.65,9.74h5.65m-5.65,9.74h5.65M653.95,563.88l2.83,4.87l-2.83,4.87l2.83,4.87l-2.83,4.87l2.83,4.87l-2.83,4.87l2.83,4.87l-2.83,4.87l2.83,4.87l-2.83,4.87l2.83,4.87l-2.83,4.87l2.83,4.87l-2.83,4.87l2.83,4.87l-2.83,4.87l2.83,4.87l-2.83,4.87l2.83,4.87l-2.83,4.87l2.83,4.87l-2.83,4.87l2.83,4.87l-2.83,4.87l2.83,4.87l-2.83,4.87l2.83,4.87l-2.83,4.87l2.83,4.87l-2.83,4.87l2.83,4.87l-2.83,4.87l2.83,4.87l-2.83,4.87l2.83,4.87l-2.83,4.87l2.83,4.87l-2.83,4.87l2.83,4.87l-2.83,4.87l2.83,4.87l-2.83,4.87l2.83,4.87l-2.83,4.87l2.83,4.87l-2.83,4.87l2.83,4.87l-2.83,4.87l2.83,4.87l-2.83,4.87l2.83,4.87l-2.83,4.87l2.83,4.87l-2.83,4.87l2.83,4.87l-2.83,4.87l2.83,4.87l-2.83,4.87l2.83,4.87l-2.83,4.87l2.83,4.87l-2.83,4.87l2.83,4.87l-2.83,4.87l2.83,4.87l-2.83,4.87l2.83,4.87l-2.83,4.87l2.83,4.87l-2.83,4.87l2.83,4.87l-2.83,4.87l2.83,4.87l-2.83,4.87l2.83,4.87l-2.83,4.87l2.83,4.87l-2.83,4.87l2.83,4.87l-2.83,4.87M648.30,563.88h5.65m-5.65,9.74h5.65m-5.65,9.74h5.65m-5.65,9.74h5.65m-5.65,9.74h5.65m-5.65,9.74h5.65m-5.65,9.74h5.65m-5.65,9.74h5.65m-5.65,9.74h5.65m-5.65,9.74h5.65m-5.65,9.74h5.65m-5.65,9.74h5.65m-5.65,9.74h5.65m-5.65,9.74h5.65m-5.65,9.74h5.65m-5.65,9.74h5.65m-5.65,9.74h5.65m-5.65,9.74h5.65m-5.65,9.74h5.65m-5.65,9.74h5.65m-5.65,9.74h5.65m-5.65,9.74h5.65m-5.65,9.74h5.65m-5.65,9.74h5.65m-5.65,9.74h5.65m-5.65,9.74h5.65m-5.65,9.74h5.65m-5.65,9.74h5.65m-5.65,9.74h5.65m-5.65,9.74h5.65m-5.65,9.74h5.65m-5.65,9.74h5.65m-5.65,9.74h5.65m-5.65,9.74h5.65m-5.65,9.74h5.65m-5.65,9.74h5.65m-5.65,9.74h5.65m-5.65,9.74h5.65m-5.65,9.74h5.65m-5.65,9.74h5.65m-5.65,9.74h5.65M662.43,568.75l2.83,4.87l-2.83,4.87l2.83,4.87l-2.83,4.87l2.83,4.87l-2.83,4.87l2.83,4.87l-2.83,4.87l2.83,4.87l-2.83,4.87l2.83,4.87l-2.83,4.87l2.83,4.87l-2.83,4.87l2.83,4.87l-2.83,4.87l2.83,4.87l-2.83,4.87l2.83,4.87l-2.83,4.87l2.83,4.87l-2.83,4.87l2.83,4.87l-2.83,4.87l2.83,4.87l-2.83,4.87l2.83,4.87l-2.83,4.87l2.83,4.87l-2.83,4.87l2.83,4.87l-2.83,4.87l2.83,4.87l-2.83,4.87l2.83,4.87l-2.83,4.87l2.83,4.87l-2.83,4.87l2.83,4.87l-2.83,4.87l2.83,4.87l-2.83,4.87l2.83,4.87l-2.83,4.87l2.83,4.87l-2.83,4.87l2.83,4.87l-2.83,4.87l2.83,4.87l-2.83,4.87l2.83,4.87l-2.83,4.87l2.83,4.87l-2.83,4.87l2.83,4.87l-2.83,4.87l2.83,4.87l-2.83,4.87l2.83,4.87l-2.83,4.87l2.83,4.87l-2.83,4.87l2.83,4.87l-2.83,4.87l2.83,4.87l-2.83,4.87l2.83,4.87l-2.83,4.87l2.83,4.87l-2.83,4.87l2.83,4.87l-2.83,4.87l2.83,4.87l-2.83,4.87l2.83,4.87l-2.83,4.87l2.83,4.87l-2.83,4.87l2.83,4.87l-2.83,4.87M656.77,568.75h5.65m-5.65,9.74h5.65m-5.65,9.74h5.65m-5.65,9.74h5.65m-5.65,9.74h5.65m-5.65,9.74h5.65m-5.65,9.74h5.65m-5.65,9.74h5.65m-5.65,9.74h5.65m-5.65,9.74h5.65m-5.65,9.74h5.65m-5.65,9.74h5.65m-5.65,9.74h5.65m-5.65,9.74h5.65m-5.65,9.74h5.65m-5.65,9.74h5.65m-5.65,9.74h5.65m-5.65,9.74h5.65m-5.65,9.74h5.65m-5.65,9.74h5.65m-5.65,9.74h5.65m-5.65,9.74h5.65m-5.65,9.74h5.65m-5.65,9.74h5.65m-5.65,9.74h5.65m-5.65,9.74h5.65m-5.65,9.74h5.65m-5.65,9.74h5.65m-5.65,9.74h5.65m-5.65,9.74h5.65m-5.65,9.74h5.65m-5.65,9.74h5.65m-5.65,9.74h5.65m-5.65,9.74h5.65m-5.65,9.74h5.65m-5.65,9.74h5.65m-5.65,9.74h5.65m-5.65,9.74h5.65m-5.65,9.74h5.65m-5.65,9.74h5.65m-5.65,9.74h5.65"/>
<path class="o" d="M590.95,587.0 L574.65,896.17 A34.75,34.75 0 1 0 644.05,896.17 L627.75,587.0 Z"/>
</g>
<!-- right view -->
<path class="o" d="M1310.50,177.80 L1310.46,181.29 L1310.33,184.77 L1310.18,188.25 L1310.01,191.73 L1309.83,195.21 L1309.64,198.69 L1309.42,202.17 L1309.19,205.65 L1308.94,209.13 L1308.67,212.61 L1308.38,216.09 L1308.07,219.57 L1307.74,223.05 L1307.38,226.52 L1307.00,229.99 L1306.60,233.46 L1306.17,236.93 L1305.71,240.39 L1305.23,243.84 L1304.72,247.29 L1304.18,250.74 L1303.62,254.18 L1303.02,257.61 L1302.39,261.04 L1301.73,264.46 L1301.04,267.88 L1300.31,271.29 L1299.55,274.69 L1298.76,278.08 L1297.92,281.46 L1296.90,284.80 L1296.90,384.60 L1297.81,387.22 L1298.57,389.89 L1299.29,392.56 L1299.97,395.25 L1300.63,397.94 L1301.25,400.63 L1301.84,403.33 L1302.40,406.04 L1302.93,408.76 L1303.44,411.47 L1303.91,414.20 L1304.37,416.93 L1304.79,419.66 L1305.20,422.40 L1305.58,425.14 L1305.94,427.88 L1306.28,430.63 L1306.60,433.38 L1306.91,436.14 L1307.20,438.89 L1307.47,441.65 L1307.72,444.41 L1307.97,447.18 L1308.20,449.94 L1308.42,452.70 L1308.63,455.47 L1308.83,458.24 L1309.02,461.00 L1309.20,463.77 L1309.38,466.54 L1309.55,469.30 L1309.72,472.07 L1309.89,474.83 L1310.05,477.59 L1310.22,480.36 L1310.38,483.11 L1310.55,485.87 L1310.72,488.63 L1310.80,491.40 L1333.35,491.4 L1333.35,177.8 Z"/>
<path class="o" d="M1333.35,318.3 L1515.6,318.3 L1515.6,350.2 L1333.35,350.2"/>
<path class="o w" d="M1246.9,368.9 L1246.9,404 Q1246.9,405.7 1246.00,405.90 L1243.58,406.28 L1241.19,406.68 L1238.81,407.08 L1236.42,407.49 L1234.04,407.90 L1231.67,408.32 L1229.29,408.74 L1226.91,409.17 L1224.54,409.62 L1222.17,410.07 L1219.81,410.54 L1217.45,411.02 L1215.09,411.52 L1212.73,412.04 L1210.38,412.57 L1208.03,413.12 L1205.69,413.70 L1203.35,414.30 L1201.01,414.92 L1198.68,415.56 L1196.35,416.24 L1194.03,416.94 L1191.71,417.67 L1189.40,418.44 L1187.09,419.23 L1184.79,420.06 L1182.50,420.92 L1180.21,421.82 L1177.93,422.76 L1175.66,423.74 L1173.41,424.76 L1171.18,425.81 L1168.97,426.91 L1166.79,428.06 L1164.64,429.25 L1162.53,430.48 L1160.45,431.77 L1158.42,433.10 L1156.43,434.48 L1154.49,435.91 L1152.60,437.40 L1150.77,438.93 L1149.01,440.52 L1147.30,442.17 L1145.67,443.88 L1144.10,445.64 L1142.61,447.46 L1141.20,449.34 L1139.88,451.28 L1138.63,453.28 L1137.45,455.33 L1136.36,457.44 L1135.33,459.59 L1134.37,461.78 L1133.48,464.02 L1132.66,466.29 L1131.89,468.60 L1131.19,470.93 L1130.54,473.30 L1129.94,475.68 L1129.40,478.09 L1128.91,480.52 L1128.46,482.95 L1128.06,485.40 L1127.70,487.86 L1127.38,490.31 L1127.09,492.77 L1126.84,495.23 L1126.62,497.68 L1126.43,500.12 L1126.27,502.55 L1126.13,504.97 L1126.02,507.39 L1125.92,509.80 L1125.85,512.21 L1125.79,514.61 L1125.75,517.01 L1125.72,519.41 L1125.70,521.81 L1125.69,524.20 L1125.69,526.60 L1125.70,529.00 L1125.70,531.40 L1125.71,533.80 L1125.71,536.21 L1125.72,538.62 L1125.71,541.04 L1125.70,543.46 L1125.68,545.89 L1125.65,548.33 L1125.70,550.80 L1170.90,550.80 L1171.01,548.46 L1171.03,546.18 L1171.05,543.87 L1171.06,541.53 L1171.07,539.16 L1171.10,536.76 L1171.15,534.35 L1171.22,531.93 L1171.32,529.49 L1171.46,527.06 L1171.65,524.63 L1171.88,522.20 L1172.18,519.79 L1172.53,517.39 L1172.96,515.02 L1173.47,512.67 L1174.06,510.36 L1174.74,508.08 L1175.52,505.85 L1176.39,503.66 L1177.36,501.52 L1178.42,499.44 L1179.58,497.41 L1180.82,495.45 L1182.16,493.56 L1183.59,491.74 L1185.10,489.99 L1186.70,488.32 L1188.39,486.74 L1190.16,485.24 L1192.01,483.83 L1193.93,482.50 L1195.92,481.25 L1197.97,480.07 L1200.08,478.97 L1202.24,477.94 L1204.44,476.98 L1206.69,476.09 L1208.96,475.26 L1211.27,474.50 L1213.60,473.79 L1215.95,473.14 L1218.31,472.54 L1220.68,472.00 L1223.04,471.50 L1225.41,471.06 L1227.78,470.65 L1230.14,470.30 L1232.51,469.98 L1234.87,469.71 L1237.22,469.48 L1239.58,469.28 L1241.92,469.12 L1244.27,469.00 L1246.60,468.91 L1248.93,468.85 L1251.25,468.82 L1253.57,468.82 L1256.00,468.90 L1292.35,468.9 L1292.35,368.9"/>
<rect x="1243.1" y="384.7" width="3.8" height="17.3" fill="#999" stroke="#000" stroke-width="1.5"/>
<path class="o" d="M1246.9,302.6 C1233,303.2 1224.1,312.5 1224.1,327 L1224.1,342.4 C1224.1,357 1233,366.2 1246.9,366.8"/>
<rect class="o w" x="1246.9" y="300.1" width="45.45" height="68.8"/>
<path class="o" style="stroke-width:1.6" d="M1292.35,302.9 L1296.9,302.9 M1292.35,366.2 L1296.9,366.2"/>
<g transform="translate(539,0)">
<rect class="o" x="582.30" y="550.8" width="54.3" height="9.2"/>
<rect class="o" x="582.30" y="577.9" width="54.3" height="9.1"/>
<rect class="o w" x="572.85" y="560" width="73.2" height="17.9" rx="8.95" ry="8.95"/>
<path class="hx" clip-path="url(#hclip)" d="M560.73,568.75l2.83,4.87l-2.83,4.87l2.83,4.87l-2.83,4.87l2.83,4.87l-2.83,4.87l2.83,4.87l-2.83,4.87l2.83,4.87l-2.83,4.87l2.83,4.87l-2.83,4.87l2.83,4.87l-2.83,4.87l2.83,4.87l-2.83,4.87l2.83,4.87l-2.83,4.87l2.83,4.87l-2.83,4.87l2.83,4.87l-2.83,4.87l2.83,4.87l-2.83,4.87l2.83,4.87l-2.83,4.87l2.83,4.87l-2.83,4.87l2.83,4.87l-2.83,4.87l2.83,4.87l-2.83,4.87l2.83,4.87l-2.83,4.87l2.83,4.87l-2.83,4.87l2.83,4.87l-2.83,4.87l2.83,4.87l-2.83,4.87l2.83,4.87l-2.83,4.87l2.83,4.87l-2.83,4.87l2.83,4.87l-2.83,4.87l2.83,4.87l-2.83,4.87l2.83,4.87l-2.83,4.87l2.83,4.87l-2.83,4.87l2.83,4.87l-2.83,4.87l2.83,4.87l-2.83,4.87l2.83,4.87l-2.83,4.87l2.83,4.87l-2.83,4.87l2.83,4.87l-2.83,4.87l2.83,4.87l-2.83,4.87l2.83,4.87l-2.83,4.87l2.83,4.87l-2.83,4.87l2.83,4.87l-2.83,4.87l2.83,4.87l-2.83,4.87l2.83,4.87l-2.83,4.87l2.83,4.87l-2.83,4.87l2.83,4.87l-2.83,4.87l2.83,4.87l-2.83,4.87M555.07,568.75h5.65m-5.65,9.74h5.65m-5.65,9.74h5.65m-5.65,9.74h5.65m-5.65,9.74h5.65m-5.65,9.74h5.65m-5.65,9.74h5.65m-5.65,9.74h5.65m-5.65,9.74h5.65m-5.65,9.74h5.65m-5.65,9.74h5.65m-5.65,9.74h5.65m-5.65,9.74h5.65m-5.65,9.74h5.65m-5.65,9.74h5.65m-5.65,9.74h5.65m-5.65,9.74h5.65m-5.65,9.74h5.65m-5.65,9.74h5.65m-5.65,9.74h5.65m-5.65,9.74h5.65m-5.65,9.74h5.65m-5.65,9.74h5.65m-5.65,9.74h5.65m-5.65,9.74h5.65m-5.65,9.74h5.65m-5.65,9.74h5.65m-5.65,9.74h5.65m-5.65,9.74h5.65m-5.65,9.74h5.65m-5.65,9.74h5.65m-5.65,9.74h5.65m-5.65,9.74h5.65m-5.65,9.74h5.65m-5.65,9.74h5.65m-5.65,9.74h5.65m-5.65,9.74h5.65m-5.65,9.74h5.65m-5.65,9.74h5.65m-5.65,9.74h5.65m-5.65,9.74h5.65M569.20,563.88l2.83,4.87l-2.83,4.87l2.83,4.87l-2.83,4.87l2.83,4.87l-2.83,4.87l2.83,4.87l-2.83,4.87l2.83,4.87l-2.83,4.87l2.83,4.87l-2.83,4.87l2.83,4.87l-2.83,4.87l2.83,4.87l-2.83,4.87l2.83,4.87l-2.83,4.87l2.83,4.87l-2.83,4.87l2.83,4.87l-2.83,4.87l2.83,4.87l-2.83,4.87l2.83,4.87l-2.83,4.87l2.83,4.87l-2.83,4.87l2.83,4.87l-2.83,4.87l2.83,4.87l-2.83,4.87l2.83,4.87l-2.83,4.87l2.83,4.87l-2.83,4.87l2.83,4.87l-2.83,4.87l2.83,4.87l-2.83,4.87l2.83,4.87l-2.83,4.87l2.83,4.87l-2.83,4.87l2.83,4.87l-2.83,4.87l2.83,4.87l-2.83,4.87l2.83,4.87l-2.83,4.87l2.83,4.87l-2.83,4.87l2.83,4.87l-2.83,4.87l2.83,4.87l-2.83,4.87l2.83,4.87l-2.83,4.87l2.83,4.87l-2.83,4.87l2.83,4.87l-2.83,4.87l2.83,4.87l-2.83,4.87l2.83,4.87l-2.83,4.87l2.83,4.87l-2.83,4.87l2.83,4.87l-2.83,4.87l2.83,4.87l-2.83,4.87l2.83,4.87l-2.83,4.87l2.83,4.87l-2.83,4.87l2.83,4.87l-2.83,4.87l2.83,4.87l-2.83,4.87M563.55,563.88h5.65m-5.65,9.74h5.65m-5.65,9.74h5.65m-5.65,9.74h5.65m-5.65,9.74h5.65m-5.65,9.74h5.65m-5.65,9.74h5.65m-5.65,9.74h5.65m-5.65,9.74h5.65m-5.65,9.74h5.65m-5.65,9.74h5.65m-5.65,9.74h5.65m-5.65,9.74h5.65m-5.65,9.74h5.65m-5.65,9.74h5.65m-5.65,9.74h5.65m-5.65,9.74h5.65m-5.65,9.74h5.65m-5.65,9.74h5.65m-5.65,9.74h5.65m-5.65,9.74h5.65m-5.65,9.74h5.65m-5.65,9.74h5.65m-5.65,9.74h5.65m-5.65,9.74h5.65m-5.65,9.74h5.65m-5.65,9.74h5.65m-5.65,9.74h5.65m-5.65,9.74h5.65m-5.65,9.74h5.65m-5.65,9.74h5.65m-5.65,9.74h5.65m-5.65,9.74h5.65m-5.65,9.74h5.65m-5.65,9.74h5.65m-5.65,9.74h5.65m-5.65,9.74h5.65m-5.65,9.74h5.65m-5.65,9.74h5.65m-5.65,9.74h5.65m-5.65,9.74h5.65M577.68,568.75l2.83,4.87l-2.83,4.87l2.83,4.87l-2.83,4.87l2.83,4.87l-2.83,4.87l2.83,4.87l-2.83,4.87l2.83,4.87l-2.83,4.87l2.83,4.87l-2.83,4.87l2.83,4.87l-2.83,4.87l2.83,4.87l-2.83,4.87l2.83,4.87l-2.83,4.87l2.83,4.87l-2.83,4.87l2.83,4.87l-2.83,4.87l2.83,4.87l-2.83,4.87l2.83,4.87l-2.83,4.87l2.83,4.87l-2.83,4.87l2.83,4.87l-2.83,4.87l2.83,4.87l-2.83,4.87l2.83,4.87l-2.83,4.87l2.83,4.87l-2.83,4.87l2.83,4.87l-2.83,4.87l2.83,4.87l-2.83,4.87l2.83,4.87l-2.83,4.87l2.83,4.87l-2.83,4.87l2.83,4.87l-2.83,4.87l2.83,4.87l-2.83,4.87l2.83,4.87l-2.83,4.87l2.83,4.87l-2.83,4.87l2.83,4.87l-2.83,4.87l2.83,4.87l-2.83,4.87l2.83,4.87l-2.83,4.87l2.83,4.87l-2.83,4.87l2.83,4.87l-2.83,4.87l2.83,4.87l-2.83,4.87l2.83,4.87l-2.83,4.87l2.83,4.87l-2.83,4.87l2.83,4.87l-2.83,4.87l2.83,4.87l-2.83,4.87l2.83,4.87l-2.83,4.87l2.83,4.87l-2.83,4.87l2.83,4.87l-2.83,4.87l2.83,4.87l-2.83,4.87M572.02,568.75h5.65m-5.65,9.74h5.65m-5.65,9.74h5.65m-5.65,9.74h5.65m-5.65,9.74h5.65m-5.65,9.74h5.65m-5.65,9.74h5.65m-5.65,9.74h5.65m-5.65,9.74h5.65m-5.65,9.74h5.65m-5.65,9.74h5.65m-5.65,9.74h5.65m-5.65,9.74h5.65m-5.65,9.74h5.65m-5.65,9.74h5.65m-5.65,9.74h5.65m-5.65,9.74h5.65m-5.65,9.74h5.65m-5.65,9.74h5.65m-5.65,9.74h5.65m-5.65,9.74h5.65m-5.65,9.74h5.65m-5.65,9.74h5.65m-5.65,9.74h5.65m-5.65,9.74h5.65m-5.65,9.74h5.65m-5.65,9.74h5.65m-5.65,9.74h5.65m-5.65,9.74h5.65m-5.65,9.74h5.65m-5.65,9.74h5.65m-5.65,9.74h5.65m-5.65,9.74h5.65m-5.65,9.74h5.65m-5.65,9.74h5.65m-5.65,9.74h5.65m-5.65,9.74h5.65m-5.65,9.74h5.65m-5.65,9.74h5.65m-5.65,9.74h5.65m-5.65,9.74h5.65M586.15,563.88l2.83,4.87l-2.83,4.87l2.83,4.87l-2.83,4.87l2.83,4.87l-2.83,4.87l2.83,4.87l-2.83,4.87l2.83,4.87l-2.83,4.87l2.83,4.87l-2.83,4.87l2.83,4.87l-2.83,4.87l2.83,4.87l-2.83,4.87l2.83,4.87l-2.83,4.87l2.83,4.87l-2.83,4.87l2.83,4.87l-2.83,4.87l2.83,4.87l-2.83,4.87l2.83,4.87l-2.83,4.87l2.83,4.87l-2.83,4.87l2.83,4.87l-2.83,4.87l2.83,4.87l-2.83,4.87l2.83,4.87l-2.83,4.87l2.83,4.87l-2.83,4.87l2.83,4.87l-2.83,4.87l2.83,4.87l-2.83,4.87l2.83,4.87l-2.83,4.87l2.83,4.87l-2.83,4.87l2.83,4.87l-2.83,4.87l2.83,4.87l-2.83,4.87l2.83,4.87l-2.83,4.87l2.83,4.87l-2.83,4.87l2.83,4.87l-2.83,4.87l2.83,4.87l-2.83,4.87l2.83,4.87l-2.83,4.87l2.83,4.87l-2.83,4.87l2.83,4.87l-2.83,4.87l2.83,4.87l-2.83,4.87l2.83,4.87l-2.83,4.87l2.83,4.87l-2.83,4.87l2.83,4.87l-2.83,4.87l2.83,4.87l-2.83,4.87l2.83,4.87l-2.83,4.87l2.83,4.87l-2.83,4.87l2.83,4.87l-2.83,4.87l2.83,4.87l-2.83,4.87M580.50,563.88h5.65m-5.65,9.74h5.65m-5.65,9.74h5.65m-5.65,9.74h5.65m-5.65,9.74h5.65m-5.65,9.74h5.65m-5.65,9.74h5.65m-5.65,9.74h5.65m-5.65,9.74h5.65m-5.65,9.74h5.65m-5.65,9.74h5.65m-5.65,9.74h5.65m-5.65,9.74h5.65m-5.65,9.74h5.65m-5.65,9.74h5.65m-5.65,9.74h5.65m-5.65,9.74h5.65m-5.65,9.74h5.65m-5.65,9.74h5.65m-5.65,9.74h5.65m-5.65,9.74h5.65m-5.65,9.74h5.65m-5.65,9.74h5.65m-5.65,9.74h5.65m-5.65,9.74h5.65m-5.65,9.74h5.65m-5.65,9.74h5.65m-5.65,9.74h5.65m-5.65,9.74h5.65m-5.65,9.74h5.65m-5.65,9.74h5.65m-5.65,9.74h5.65m-5.65,9.74h5.65m-5.65,9.74h5.65m-5.65,9.74h5.65m-5.65,9.74h5.65m-5.65,9.74h5.65m-5.65,9.74h5.65m-5.65,9.74h5.65m-5.65,9.74h5.65m-5.65,9.74h5.65M594.62,568.75l2.83,4.87l-2.83,4.87l2.83,4.87l-2.83,4.87l2.83,4.87l-2.83,4.87l2.83,4.87l-2.83,4.87l2.83,4.87l-2.83,4.87l2.83,4.87l-2.83,4.87l2.83,4.87l-2.83,4.87l2.83,4.87l-2.83,4.87l2.83,4.87l-2.83,4.87l2.83,4.87l-2.83,4.87l2.83,4.87l-2.83,4.87l2.83,4.87l-2.83,4.87l2.83,4.87l-2.83,4.87l2.83,4.87l-2.83,4.87l2.83,4.87l-2.83,4.87l2.83,4.87l-2.83,4.87l2.83,4.87l-2.83,4.87l2.83,4.87l-2.83,4.87l2.83,4.87l-2.83,4.87l2.83,4.87l-2.83,4.87l2.83,4.87l-2.83,4.87l2.83,4.87l-2.83,4.87l2.83,4.87l-2.83,4.87l2.83,4.87l-2.83,4.87l2.83,4.87l-2.83,4.87l2.83,4.87l-2.83,4.87l2.83,4.87l-2.83,4.87l2.83,4.87l-2.83,4.87l2.83,4.87l-2.83,4.87l2.83,4.87l-2.83,4.87l2.83,4.87l-2.83,4.87l2.83,4.87l-2.83,4.87l2.83,4.87l-2.83,4.87l2.83,4.87l-2.83,4.87l2.83,4.87l-2.83,4.87l2.83,4.87l-2.83,4.87l2.83,4.87l-2.83,4.87l2.83,4.87l-2.83,4.87l2.83,4.87l-2.83,4.87l2.83,4.87l-2.83,4.87M588.97,568.75h5.65m-5.65,9.74h5.65m-5.65,9.74h5.65m-5.65,9.74h5.65m-5.65,9.74h5.65m-5.65,9.74h5.65m-5.65,9.74h5.65m-5.65,9.74h5.65m-5.65,9.74h5.65m-5.65,9.74h5.65m-5.65,9.74h5.65m-5.65,9.74h5.65m-5.65,9.74h5.65m-5.65,9.74h5.65m-5.65,9.74h5.65m-5.65,9.74h5.65m-5.65,9.74h5.65m-5.65,9.74h5.65m-5.65,9.74h5.65m-5.65,9.74h5.65m-5.65,9.74h5.65m-5.65,9.74h5.65m-5.65,9.74h5.65m-5.65,9.74h5.65m-5.65,9.74h5.65m-5.65,9.74h5.65m-5.65,9.74h5.65m-5.65,9.74h5.65m-5.65,9.74h5.65m-5.65,9.74h5.65m-5.65,9.74h5.65m-5.65,9.74h5.65m-5.65,9.74h5.65m-5.65,9.74h5.65m-5.65,9.74h5.65m-5.65,9.74h5.65m-5.65,9.74h5.65m-5.65,9.74h5.65m-5.65,9.74h5.65m-5.65,9.74h5.65m-5.65,9.74h5.65M603.10,563.88l2.83,4.87l-2.83,4.87l2.83,4.87l-2.83,4.87l2.83,4.87l-2.83,4.87l2.83,4.87l-2.83,4.87l2.83,4.87l-2.83,4.87l2.83,4.87l-2.83,4.87l2.83,4.87l-2.83,4.87l2.83,4.87l-2.83,4.87l2.83,4.87l-2.83,4.87l2.83,4.87l-2.83,4.87l2.83,4.87l-2.83,4.87l2.83,4.87l-2.83,4.87l2.83,4.87l-2.83,4.87l2.83,4.87l-2.83,4.87l2.83,4.87l-2.83,4.87l2.83,4.87l-2.83,4.87l2.83,4.87l-2.83,4.87l2.83,4.87l-2.83,4.87l2.83,4.87l-2.83,4.87l2.83,4.87l-2.83,4.87l2.83,4.87l-2.83,4.87l2.83,4.87l-2.83,4.87l2.83,4.87l-2.83,4.87l2.83,4.87l-2.83,4.87l2.83,4.87l-2.83,4.87l2.83,4.87l-2.83,4.87l2.83,4.87l-2.83,4.87l2.83,4.87l-2.83,4.87l2.83,4.87l-2.83,4.87l2.83,4.87l-2.83,4.87l2.83,4.87l-2.83,4.87l2.83,4.87l-2.83,4.87l2.83,4.87l-2.83,4.87l2.83,4.87l-2.83,4.87l2.83,4.87l-2.83,4.87l2.83,4.87l-2.83,4.87l2.83,4.87l-2.83,4.87l2.83,4.87l-2.83,4.87l2.83,4.87l-2.83,4.87l2.83,4.87l-2.83,4.87M597.45,563.88h5.65m-5.65,9.74h5.65m-5.65,9.74h5.65m-5.65,9.74h5.65m-5.65,9.74h5.65m-5.65,9.74h5.65m-5.65,9.74h5.65m-5.65,9.74h5.65m-5.65,9.74h5.65m-5.65,9.74h5.65m-5.65,9.74h5.65m-5.65,9.74h5.65m-5.65,9.74h5.65m-5.65,9.74h5.65m-5.65,9.74h5.65m-5.65,9.74h5.65m-5.65,9.74h5.65m-5.65,9.74h5.65m-5.65,9.74h5.65m-5.65,9.74h5.65m-5.65,9.74h5.65m-5.65,9.74h5.65m-5.65,9.74h5.65m-5.65,9.74h5.65m-5.65,9.74h5.65m-5.65,9.74h5.65m-5.65,9.74h5.65m-5.65,9.74h5.65m-5.65,9.74h5.65m-5.65,9.74h5.65m-5.65,9.74h5.65m-5.65,9.74h5.65m-5.65,9.74h5.65m-5.65,9.74h5.65m-5.65,9.74h5.65m-5.65,9.74h5.65m-5.65,9.74h5.65m-5.65,9.74h5.65m-5.65,9.74h5.65m-5.65,9.74h5.65m-5.65,9.74h5.65M611.58,568.75l2.83,4.87l-2.83,4.87l2.83,4.87l-2.83,4.87l2.83,4.87l-2.83,4.87l2.83,4.87l-2.83,4.87l2.83,4.87l-2.83,4.87l2.83,4.87l-2.83,4.87l2.83,4.87l-2.83,4.87l2.83,4.87l-2.83,4.87l2.83,4.87l-2.83,4.87l2.83,4.87l-2.83,4.87l2.83,4.87l-2.83,4.87l2.83,4.87l-2.83,4.87l2.83,4.87l-2.83,4.87l2.83,4.87l-2.83,4.87l2.83,4.87l-2.83,4.87l2.83,4.87l-2.83,4.87l2.83,4.87l-2.83,4.87l2.83,4.87l-2.83,4.87l2.83,4.87l-2.83,4.87l2.83,4.87l-2.83,4.87l2.83,4.87l-2.83,4.87l2.83,4.87l-2.83,4.87l2.83,4.87l-2.83,4.87l2.83,4.87l-2.83,4.87l2.83,4.87l-2.83,4.87l2.83,4.87l-2.83,4.87l2.83,4.87l-2.83,4.87l2.83,4.87l-2.83,4.87l2.83,4.87l-2.83,4.87l2.83,4.87l-2.83,4.87l2.83,4.87l-2.83,4.87l2.83,4.87l-2.83,4.87l2.83,4.87l-2.83,4.87l2.83,4.87l-2.83,4.87l2.83,4.87l-2.83,4.87l2.83,4.87l-2.83,4.87l2.83,4.87l-2.83,4.87l2.83,4.87l-2.83,4.87l2.83,4.87l-2.83,4.87l2.83,4.87l-2.83,4.87M605.92,568.75h5.65m-5.65,9.74h5.65m-5.65,9.74h5.65m-5.65,9.74h5.65m-5.65,9.74h5.65m-5.65,9.74h5.65m-5.65,9.74h5.65m-5.65,9.74h5.65m-5.65,9.74h5.65m-5.65,9.74h5.65m-5.65,9.74h5.65m-5.65,9.74h5.65m-5.65,9.74h5.65m-5.65,9.74h5.65m-5.65,9.74h5.65m-5.65,9.74h5.65m-5.65,9.74h5.65m-5.65,9.74h5.65m-5.65,9.74h5.65m-5.65,9.74h5.65m-5.65,9.74h5.65m-5.65,9.74h5.65m-5.65,9.74h5.65m-5.65,9.74h5.65m-5.65,9.74h5.65m-5.65,9.74h5.65m-5.65,9.74h5.65m-5.65,9.74h5.65m-5.65,9.74h5.65m-5.65,9.74h5.65m-5.65,9.74h5.65m-5.65,9.74h5.65m-5.65,9.74h5.65m-5.65,9.74h5.65m-5.65,9.74h5.65m-5.65,9.74h5.65m-5.65,9.74h5.65m-5.65,9.74h5.65m-5.65,9.74h5.65m-5.65,9.74h5.65m-5.65,9.74h5.65M620.05,563.88l2.83,4.87l-2.83,4.87l2.83,4.87l-2.83,4.87l2.83,4.87l-2.83,4.87l2.83,4.87l-2.83,4.87l2.83,4.87l-2.83,4.87l2.83,4.87l-2.83,4.87l2.83,4.87l-2.83,4.87l2.83,4.87l-2.83,4.87l2.83,4.87l-2.83,4.87l2.83,4.87l-2.83,4.87l2.83,4.87l-2.83,4.87l2.83,4.87l-2.83,4.87l2.83,4.87l-2.83,4.87l2.83,4.87l-2.83,4.87l2.83,4.87l-2.83,4.87l2.83,4.87l-2.83,4.87l2.83,4.87l-2.83,4.87l2.83,4.87l-2.83,4.87l2.83,4.87l-2.83,4.87l2.83,4.87l-2.83,4.87l2.83,4.87l-2.83,4.87l2.83,4.87l-2.83,4.87l2.83,4.87l-2.83,4.87l2.83,4.87l-2.83,4.87l2.83,4.87l-2.83,4.87l2.83,4.87l-2.83,4.87l2.83,4.87l-2.83,4.87l2.83,4.87l-2.83,4.87l2.83,4.87l-2.83,4.87l2.83,4.87l-2.83,4.87l2.83,4.87l-2.83,4.87l2.83,4.87l-2.83,4.87l2.83,4.87l-2.83,4.87l2.83,4.87l-2.83,4.87l2.83,4.87l-2.83,4.87l2.83,4.87l-2.83,4.87l2.83,4.87l-2.83,4.87l2.83,4.87l-2.83,4.87l2.83,4.87l-2.83,4.87l2.83,4.87l-2.83,4.87M614.40,563.88h5.65m-5.65,9.74h5.65m-5.65,9.74h5.65m-5.65,9.74h5.65m-5.65,9.74h5.65m-5.65,9.74h5.65m-5.65,9.74h5.65m-5.65,9.74h5.65m-5.65,9.74h5.65m-5.65,9.74h5.65m-5.65,9.74h5.65m-5.65,9.74h5.65m-5.65,9.74h5.65m-5.65,9.74h5.65m-5.65,9.74h5.65m-5.65,9.74h5.65m-5.65,9.74h5.65m-5.65,9.74h5.65m-5.65,9.74h5.65m-5.65,9.74h5.65m-5.65,9.74h5.65m-5.65,9.74h5.65m-5.65,9.74h5.65m-5.65,9.74h5.65m-5.65,9.74h5.65m-5.65,9.74h5.65m-5.65,9.74h5.65m-5.65,9.74h5.65m-5.65,9.74h5.65m-5.65,9.74h5.65m-5.65,9.74h5.65m-5.65,9.74h5.65m-5.65,9.74h5.65m-5.65,9.74h5.65m-5.65,9.74h5.65m-5.65,9.74h5.65m-5.65,9.74h5.65m-5.65,9.74h5.65m-5.65,9.74h5.65m-5.65,9.74h5.65m-5.65,9.74h5.65M628.53,568.75l2.83,4.87l-2.83,4.87l2.83,4.87l-2.83,4.87l2.83,4.87l-2.83,4.87l2.83,4.87l-2.83,4.87l2.83,4.87l-2.83,4.87l2.83,4.87l-2.83,4.87l2.83,4.87l-2.83,4.87l2.83,4.87l-2.83,4.87l2.83,4.87l-2.83,4.87l2.83,4.87l-2.83,4.87l2.83,4.87l-2.83,4.87l2.83,4.87l-2.83,4.87l2.83,4.87l-2.83,4.87l2.83,4.87l-2.83,4.87l2.83,4.87l-2.83,4.87l2.83,4.87l-2.83,4.87l2.83,4.87l-2.83,4.87l2.83,4.87l-2.83,4.87l2.83,4.87l-2.83,4.87l2.83,4.87l-2.83,4.87l2.83,4.87l-2.83,4.87l2.83,4.87l-2.83,4.87l2.83,4.87l-2.83,4.87l2.83,4.87l-2.83,4.87l2.83,4.87l-2.83,4.87l2.83,4.87l-2.83,4.87l2.83,4.87l-2.83,4.87l2.83,4.87l-2.83,4.87l2.83,4.87l-2.83,4.87l2.83,4.87l-2.83,4.87l2.83,4.87l-2.83,4.87l2.83,4.87l-2.83,4.87l2.83,4.87l-2.83,4.87l2.83,4.87l-2.83,4.87l2.83,4.87l-2.83,4.87l2.83,4.87l-2.83,4.87l2.83,4.87l-2.83,4.87l2.83,4.87l-2.83,4.87l2.83,4.87l-2.83,4.87l2.83,4.87l-2.83,4.87M622.88,568.75h5.65m-5.65,9.74h5.65m-5.65,9.74h5.65m-5.65,9.74h5.65m-5.65,9.74h5.65m-5.65,9.74h5.65m-5.65,9.74h5.65m-5.65,9.74h5.65m-5.65,9.74h5.65m-5.65,9.74h5.65m-5.65,9.74h5.65m-5.65,9.74h5.65m-5.65,9.74h5.65m-5.65,9.74h5.65m-5.65,9.74h5.65m-5.65,9.74h5.65m-5.65,9.74h5.65m-5.65,9.74h5.65m-5.65,9.74h5.65m-5.65,9.74h5.65m-5.65,9.74h5.65m-5.65,9.74h5.65m-5.65,9.74h5.65m-5.65,9.74h5.65m-5.65,9.74h5.65m-5.65,9.74h5.65m-5.65,9.74h5.65m-5.65,9.74h5.65m-5.65,9.74h5.65m-5.65,9.74h5.65m-5.65,9.74h5.65m-5.65,9.74h5.65m-5.65,9.74h5.65m-5.65,9.74h5.65m-5.65,9.74h5.65m-5.65,9.74h5.65m-5.65,9.74h5.65m-5.65,9.74h5.65m-5.65,9.74h5.65m-5.65,9.74h5.65m-5.65,9.74h5.65M637.00,563.88l2.83,4.87l-2.83,4.87l2.83,4.87l-2.83,4.87l2.83,4.87l-2.83,4.87l2.83,4.87l-2.83,4.87l2.83,4.87l-2.83,4.87l2.83,4.87l-2.83,4.87l2.83,4.87l-2.83,4.87l2.83,4.87l-2.83,4.87l2.83,4.87l-2.83,4.87l2.83,4.87l-2.83,4.87l2.83,4.87l-2.83,4.87l2.83,4.87l-2.83,4.87l2.83,4.87l-2.83,4.87l2.83,4.87l-2.83,4.87l2.83,4.87l-2.83,4.87l2.83,4.87l-2.83,4.87l2.83,4.87l-2.83,4.87l2.83,4.87l-2.83,4.87l2.83,4.87l-2.83,4.87l2.83,4.87l-2.83,4.87l2.83,4.87l-2.83,4.87l2.83,4.87l-2.83,4.87l2.83,4.87l-2.83,4.87l2.83,4.87l-2.83,4.87l2.83,4.87l-2.83,4.87l2.83,4.87l-2.83,4.87l2.83,4.87l-2.83,4.87l2.83,4.87l-2.83,4.87l2.83,4.87l-2.83,4.87l2.83,4.87l-2.83,4.87l2.83,4.87l-2.83,4.87l2.83,4.87l-2.83,4.87l2.83,4.87l-2.83,4.87l2.83,4.87l-2.83,4.87l2.83,4.87l-2.83,4.87l2.83,4.87l-2.83,4.87l2.83,4.87l-2.83,4.87l2.83,4.87l-2.83,4.87l2.83,4.87l-2.83,4.87l2.83,4.87l-2.83,4.87M631.35,563.88h5.65m-5.65,9.74h5.65m-5.65,9.74h5.65m-5.65,9.74h5.65m-5.65,9.74h5.65m-5.65,9.74h5.65m-5.65,9.74h5.65m-5.65,9.74h5.65m-5.65,9.74h5.65m-5.65,9.74h5.65m-5.65,9.74h5.65m-5.65,9.74h5.65m-5.65,9.74h5.65m-5.65,9.74h5.65m-5.65,9.74h5.65m-5.65,9.74h5.65m-5.65,9.74h5.65m-5.65,9.74h5.65m-5.65,9.74h5.65m-5.65,9.74h5.65m-5.65,9.74h5.65m-5.65,9.74h5.65m-5.65,9.74h5.65m-5.65,9.74h5.65m-5.65,9.74h5.65m-5.65,9.74h5.65m-5.65,9.74h5.65m-5.65,9.74h5.65m-5.65,9.74h5.65m-5.65,9.74h5.65m-5.65,9.74h5.65m-5.65,9.74h5.65m-5.65,9.74h5.65m-5.65,9.74h5.65m-5.65,9.74h5.65m-5.65,9.74h5.65m-5.65,9.74h5.65m-5.65,9.74h5.65m-5.65,9.74h5.65m-5.65,9.74h5.65m-5.65,9.74h5.65M645.48,568.75l2.83,4.87l-2.83,4.87l2.83,4.87l-2.83,4.87l2.83,4.87l-2.83,4.87l2.83,4.87l-2.83,4.87l2.83,4.87l-2.83,4.87l2.83,4.87l-2.83,4.87l2.83,4.87l-2.83,4.87l2.83,4.87l-2.83,4.87l2.83,4.87l-2.83,4.87l2.83,4.87l-2.83,4.87l2.83,4.87l-2.83,4.87l2.83,4.87l-2.83,4.87l2.83,4.87l-2.83,4.87l2.83,4.87l-2.83,4.87l2.83,4.87l-2.83,4.87l2.83,4.87l-2.83,4.87l2.83,4.87l-2.83,4.87l2.83,4.87l-2.83,4.87l2.83,4.87l-2.83,4.87l2.83,4.87l-2.83,4.87l2.83,4.87l-2.83,4.87l2.83,4.87l-2.83,4.87l2.83,4.87l-2.83,4.87l2.83,4.87l-2.83,4.87l2.83,4.87l-2.83,4.87l2.83,4.87l-2.83,4.87l2.83,4.87l-2.83,4.87l2.83,4.87l-2.83,4.87l2.83,4.87l-2.83,4.87l2.83,4.87l-2.83,4.87l2.83,4.87l-2.83,4.87l2.83,4.87l-2.83,4.87l2.83,4.87l-2.83,4.87l2.83,4.87l-2.83,4.87l2.83,4.87l-2.83,4.87l2.83,4.87l-2.83,4.87l2.83,4.87l-2.83,4.87l2.83,4.87l-2.83,4.87l2.83,4.87l-2.83,4.87l2.83,4.87l-2.83,4.87M639.82,568.75h5.65m-5.65,9.74h5.65m-5.65,9.74h5.65m-5.65,9.74h5.65m-5.65,9.74h5.65m-5.65,9.74h5.65m-5.65,9.74h5.65m-5.65,9.74h5.65m-5.65,9.74h5.65m-5.65,9.74h5.65m-5.65,9.74h5.65m-5.65,9.74h5.65m-5.65,9.74h5.65m-5.65,9.74h5.65m-5.65,9.74h5.65m-5.65,9.74h5.65m-5.65,9.74h5.65m-5.65,9.74h5.65m-5.65,9.74h5.65m-5.65,9.74h5.65m-5.65,9.74h5.65m-5.65,9.74h5.65m-5.65,9.74h5.65m-5.65,9.74h5.65m-5.65,9.74h5.65m-5.65,9.74h5.65m-5.65,9.74h5.65m-5.65,9.74h5.65m-5.65,9.74h5.65m-5.65,9.74h5.65m-5.65,9.74h5.65m-5.65,9.74h5.65m-5.65,9.74h5.65m-5.65,9.74h5.65m-5.65,9.74h5.65m-5.65,9.74h5.65m-5.65,9.74h5.65m-5.65,9.74h5.65m-5.65,9.74h5.65m-5.65,9.74h5.65m-5.65,9.74h5.65M653.95,563.88l2.83,4.87l-2.83,4.87l2.83,4.87l-2.83,4.87l2.83,4.87l-2.83,4.87l2.83,4.87l-2.83,4.87l2.83,4.87l-2.83,4.87l2.83,4.87l-2.83,4.87l2.83,4.87l-2.83,4.87l2.83,4.87l-2.83,4.87l2.83,4.87l-2.83,4.87l2.83,4.87l-2.83,4.87l2.83,4.87l-2.83,4.87l2.83,4.87l-2.83,4.87l2.83,4.87l-2.83,4.87l2.83,4.87l-2.83,4.87l2.83,4.87l-2.83,4.87l2.83,4.87l-2.83,4.87l2.83,4.87l-2.83,4.87l2.83,4.87l-2.83,4.87l2.83,4.87l-2.83,4.87l2.83,4.87l-2.83,4.87l2.83,4.87l-2.83,4.87l2.83,4.87l-2.83,4.87l2.83,4.87l-2.83,4.87l2.83,4.87l-2.83,4.87l2.83,4.87l-2.83,4.87l2.83,4.87l-2.83,4.87l2.83,4.87l-2.83,4.87l2.83,4.87l-2.83,4.87l2.83,4.87l-2.83,4.87l2.83,4.87l-2.83,4.87l2.83,4.87l-2.83,4.87l2.83,4.87l-2.83,4.87l2.83,4.87l-2.83,4.87l2.83,4.87l-2.83,4.87l2.83,4.87l-2.83,4.87l2.83,4.87l-2.83,4.87l2.83,4.87l-2.83,4.87l2.83,4.87l-2.83,4.87l2.83,4.87l-2.83,4.87l2.83,4.87l-2.83,4.87M648.30,563.88h5.65m-5.65,9.74h5.65m-5.65,9.74h5.65m-5.65,9.74h5.65m-5.65,9.74h5.65m-5.65,9.74h5.65m-5.65,9.74h5.65m-5.65,9.74h5.65m-5.65,9.74h5.65m-5.65,9.74h5.65m-5.65,9.74h5.65m-5.65,9.74h5.65m-5.65,9.74h5.65m-5.65,9.74h5.65m-5.65,9.74h5.65m-5.65,9.74h5.65m-5.65,9.74h5.65m-5.65,9.74h5.65m-5.65,9.74h5.65m-5.65,9.74h5.65m-5.65,9.74h5.65m-5.65,9.74h5.65m-5.65,9.74h5.65m-5.65,9.74h5.65m-5.65,9.74h5.65m-5.65,9.74h5.65m-5.65,9.74h5.65m-5.65,9.74h5.65m-5.65,9.74h5.65m-5.65,9.74h5.65m-5.65,9.74h5.65m-5.65,9.74h5.65m-5.65,9.74h5.65m-5.65,9.74h5.65m-5.65,9.74h5.65m-5.65,9.74h5.65m-5.65,9.74h5.65m-5.65,9.74h5.65m-5.65,9.74h5.65m-5.65,9.74h5.65m-5.65,9.74h5.65M662.43,568.75l2.83,4.87l-2.83,4.87l2.83,4.87l-2.83,4.87l2.83,4.87l-2.83,4.87l2.83,4.87l-2.83,4.87l2.83,4.87l-2.83,4.87l2.83,4.87l-2.83,4.87l2.83,4.87l-2.83,4.87l2.83,4.87l-2.83,4.87l2.83,4.87l-2.83,4.87l2.83,4.87l-2.83,4.87l2.83,4.87l-2.83,4.87l2.83,4.87l-2.83,4.87l2.83,4.87l-2.83,4.87l2.83,4.87l-2.83,4.87l2.83,4.87l-2.83,4.87l2.83,4.87l-2.83,4.87l2.83,4.87l-2.83,4.87l2.83,4.87l-2.83,4.87l2.83,4.87l-2.83,4.87l2.83,4.87l-2.83,4.87l2.83,4.87l-2.83,4.87l2.83,4.87l-2.83,4.87l2.83,4.87l-2.83,4.87l2.83,4.87l-2.83,4.87l2.83,4.87l-2.83,4.87l2.83,4.87l-2.83,4.87l2.83,4.87l-2.83,4.87l2.83,4.87l-2.83,4.87l2.83,4.87l-2.83,4.87l2.83,4.87l-2.83,4.87l2.83,4.87l-2.83,4.87l2.83,4.87l-2.83,4.87l2.83,4.87l-2.83,4.87l2.83,4.87l-2.83,4.87l2.83,4.87l-2.83,4.87l2.83,4.87l-2.83,4.87l2.83,4.87l-2.83,4.87l2.83,4.87l-2.83,4.87l2.83,4.87l-2.83,4.87l2.83,4.87l-2.83,4.87M656.77,568.75h5.65m-5.65,9.74h5.65m-5.65,9.74h5.65m-5.65,9.74h5.65m-5.65,9.74h5.65m-5.65,9.74h5.65m-5.65,9.74h5.65m-5.65,9.74h5.65m-5.65,9.74h5.65m-5.65,9.74h5.65m-5.65,9.74h5.65m-5.65,9.74h5.65m-5.65,9.74h5.65m-5.65,9.74h5.65m-5.65,9.74h5.65m-5.65,9.74h5.65m-5.65,9.74h5.65m-5.65,9.74h5.65m-5.65,9.74h5.65m-5.65,9.74h5.65m-5.65,9.74h5.65m-5.65,9.74h5.65m-5.65,9.74h5.65m-5.65,9.74h5.65m-5.65,9.74h5.65m-5.65,9.74h5.65m-5.65,9.74h5.65m-5.65,9.74h5.65m-5.65,9.74h5.65m-5.65,9.74h5.65m-5.65,9.74h5.65m-5.65,9.74h5.65m-5.65,9.74h5.65m-5.65,9.74h5.65m-5.65,9.74h5.65m-5.65,9.74h5.65m-5.65,9.74h5.65m-5.65,9.74h5.65m-5.65,9.74h5.65m-5.65,9.74h5.65m-5.65,9.74h5.65"/>
<path class="o" d="M590.95,587.0 L574.65,896.17 A34.75,34.75 0 1 0 644.05,896.17 L627.75,587.0 Z"/>
</g>
<!-- dimensions -->
<line class="d" x1="656.5" y1="39.9" x2="656.5" y2="150.75"/>
<line class="d" x1="729.3" y1="39.9" x2="729.3" y2="150.75"/>
<line class="d" x1="589.5" y1="63.3" x2="656.5" y2="63.3"/>
<polygon class="ah" points="656.00,63.30 643.50,59.85 643.50,66.75"/>
<line class="d" x1="729.3" y1="63.3" x2="796.25" y2="63.3"/>
<polygon class="ah" points="729.90,63.30 742.40,59.85 742.40,66.75"/>
<text class="t" y="71.1"><tspan x="680.16" textLength="24.32" lengthAdjust="spacingAndGlyphs">16</tspan></text>
<line class="d" x1="1308.4" y1="39.9" x2="1308.4" y2="150.75"/>
<line class="d" x1="1333.5" y1="39.9" x2="1333.5" y2="150.75"/>
<line class="d" x1="1241.25" y1="63.3" x2="1308.4" y2="63.3"/>
<polygon class="ah" points="1307.90,63.30 1295.40,59.85 1295.40,66.75"/>
<line class="d" x1="1333.5" y1="63.3" x2="1400.25" y2="63.3"/>
<polygon class="ah" points="1334.00,63.30 1346.50,59.85 1346.50,66.75"/>
<text class="t" y="71.1"><tspan x="1315.04" textLength="11.94" lengthAdjust="spacingAndGlyphs">5</tspan></text>
<line class="d" x1="431.5" y1="177.7" x2="542.5" y2="177.7"/>
<line class="d" x1="431.5" y1="932.85" x2="542.5" y2="932.85"/>
<line class="d" x1="455.2" y1="177.7" x2="455.2" y2="531.1"/>
<line class="d" x1="455.2" y1="579.4" x2="455.2" y2="932.85"/>
<polygon class="ah" points="455.20,178.20 451.75,190.70 458.65,190.70"/>
<polygon class="ah" points="455.20,932.35 451.75,919.85 458.65,919.85"/>
<text class="t" y="559.6"><tspan x="439.35" textLength="36.81" lengthAdjust="spacingAndGlyphs">166</tspan></text>
<line class="d" x1="757" y1="177.7" x2="868.25" y2="177.7"/>
<line class="d" x1="757" y1="491.4" x2="868.25" y2="491.4"/>
<line class="d" x1="844.6" y1="177.7" x2="844.6" y2="317.4"/>
<line class="d" x1="844.6" y1="352.2" x2="844.6" y2="491.4"/>
<polygon class="ah" points="844.60,178.20 841.15,190.70 848.05,190.70"/>
<polygon class="ah" points="844.60,490.90 841.15,478.40 848.05,478.40"/>
<text class="t" y="341.7"><tspan x="833.89" textLength="24.66" lengthAdjust="spacingAndGlyphs">69</tspan></text>
<line class="d" x1="757" y1="236.9" x2="806.75" y2="236.9"/>
<line class="d" x1="757" y1="432.6" x2="806.75" y2="432.6"/>
<line class="d" x1="796" y1="236.9" x2="796" y2="317.4"/>
<line class="d" x1="796" y1="352.2" x2="796" y2="432.6"/>
<polygon class="ah" points="796.00,237.40 792.55,249.90 799.45,249.90"/>
<polygon class="ah" points="796.00,432.10 792.55,419.60 799.45,419.60"/>
<text class="t" y="341.7"><tspan x="786.21" textLength="24.27" lengthAdjust="spacingAndGlyphs">43</tspan></text>
<line class="d" x1="971.5" y1="300.1" x2="1082.5" y2="300.1"/>
<line class="d" x1="971.5" y1="932.85" x2="1082.5" y2="932.85"/>
<line class="d" x1="995.1" y1="300.1" x2="995.1" y2="596.5"/>
<line class="d" x1="995.1" y1="636.7" x2="995.1" y2="932.85"/>
<polygon class="ah" points="995.10,300.60 991.65,313.10 998.55,313.10"/>
<polygon class="ah" points="995.10,932.35 991.65,919.85 998.55,919.85"/>
<text class="t" y="622.9"><tspan x="977.46" textLength="36.45" lengthAdjust="spacingAndGlyphs">142</tspan></text>
<line class="d" x1="1535.4" y1="318.3" x2="1646.4" y2="318.3"/>
<line class="d" x1="1535.4" y1="350.3" x2="1646.4" y2="350.3"/>
<line class="d" x1="1622.7" y1="253" x2="1622.7" y2="318.3"/>
<line class="d" x1="1622.7" y1="350.3" x2="1622.7" y2="416"/>
<polygon class="ah" points="1622.70,317.80 1619.25,305.30 1626.15,305.30"/>
<polygon class="ah" points="1622.70,350.80 1619.25,363.30 1626.15,363.30"/>
<text class="t" y="341.9"><tspan x="1616.72" textLength="12.54" lengthAdjust="spacingAndGlyphs">7</tspan></text>
<line class="d" x1="1112" y1="953" x2="1112" y2="1063.75"/>
<line class="d" x1="1292.25" y1="953" x2="1292.25" y2="1063.75"/>
<line class="d" x1="1112" y1="1040.3" x2="1182.9" y2="1040.3"/>
<line class="d" x1="1221.3" y1="1040.3" x2="1292.25" y2="1040.3"/>
<polygon class="ah" points="1112.50,1040.30 1125.00,1036.85 1125.00,1043.75"/>
<polygon class="ah" points="1291.75,1040.30 1279.25,1036.85 1279.25,1043.75"/>
<text class="t" y="1048"><tspan x="1189.30" textLength="24.79" lengthAdjust="spacingAndGlyphs">40</tspan></text>
<!-- logo -->
<text y="1307.5"><tspan font-family="Liberation Sans, sans-serif" font-weight="bold" font-size="98.0" x="1714.31" textLength="76.21" lengthAdjust="spacingAndGlyphs">A</tspan><tspan class="ls" font-size="98.5" x="1792.69" textLength="51.41" lengthAdjust="spacingAndGlyphs">n</tspan><tspan class="ls" font-size="98.5" x="1843.95" textLength="46.55" lengthAdjust="spacingAndGlyphs">v</tspan><tspan class="ls" font-size="98.5" x="1893.27" textLength="24.72" lengthAdjust="spacingAndGlyphs">i</tspan><tspan class="ls" font-size="98.5" x="1920.14" textLength="25.80" lengthAdjust="spacingAndGlyphs">l</tspan></text>
<rect x="1894" y="1234" width="25" height="24.5" fill="#fff"/>
<path fill="#fff" d="M1700,1225 L1800,1225 L1800,1238 L1767.4,1251.3 L1751.95,1251.85 L1736,1257.3 L1700,1238 Z"/>
<path class="k" d="M1705.75,1238.6 C1705.4,1237.2 1708,1236.3 1718,1235.05 C1730,1233.8 1745,1233.4 1760,1233.4 L1768.9,1233.4 L1769.6,1235.1 C1771,1236.3 1772.5,1236.45 1775,1236.5 L1797.1,1237.1 C1797.6,1238 1796,1239 1788,1242.4 L1767,1251.5 L1770.3,1264 L1757.6,1264 L1751.95,1252.2 L1746.4,1264 L1734.9,1264 L1736.2,1257.1 C1728,1252.5 1716,1245.5 1705.75,1238.6 Z"/>
<text class="ls" y="1251.85" font-size="23.5" stroke="#000" stroke-width="0.3"><tspan x="1810.04" textLength="47.88" lengthAdjust="spacingAndGlyphs">From</tspan> <tspan x="1864.74" textLength="26.15" lengthAdjust="spacingAndGlyphs">the</tspan></text>
<polygon class="k" points="1905.55,1242.05 1910.8,1247.3 1905.55,1252.55 1900.3,1247.3"/>
<text y="1243.87" font-family="Liberation Sans, sans-serif" font-size="14.4" fill="#222" x="1939.63" textLength="10.97" lengthAdjust="spacingAndGlyphs">®</text>
<text class="ls" y="1331.4" font-size="20.5" font-style="italic" stroke="#000" stroke-width="0.3" x="1717.21" textLength="226.44" lengthAdjust="spacingAndGlyphs">www.fromtheanvil.co.uk</text>
</svg>
</body>
</html>
